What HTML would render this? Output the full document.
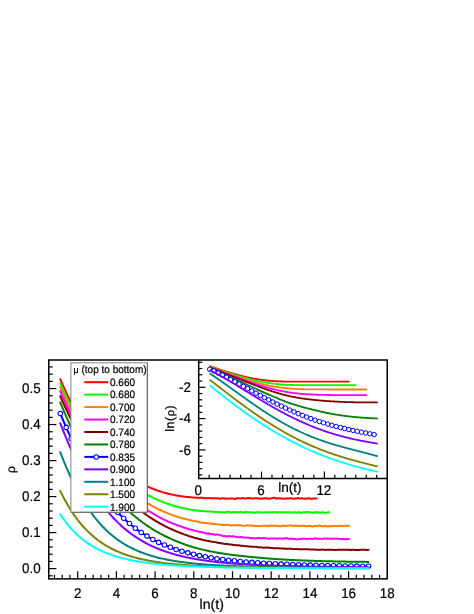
<!DOCTYPE html>
<html><head><meta charset="utf-8"><title>rho vs ln(t)</title>
<style>html,body{margin:0;padding:0;background:#fff;overflow:hidden}svg{display:block;will-change:transform}text{font-family:"Liberation Sans",sans-serif;fill:#000;stroke:#000;stroke-width:0.22px;text-rendering:geometricPrecision}</style></head><body>
<svg width="474" height="614" viewBox="0 0 474 614">
<rect width="474" height="614" fill="#fff"/>
<g fill="none" stroke-width="2.0" stroke-linecap="round" stroke-linejoin="round">
<path d="M60.26,379.17 L61.12,381.17 L61.97,383.14 L62.83,385.09 L63.69,387.01 L64.55,388.90 L65.40,390.76 L66.26,392.61 L67.12,394.42 L67.98,396.21 L68.83,397.98 L69.69,399.72 L70.55,401.44 L71.41,403.13 L72.26,404.80 L73.12,406.45 L73.98,408.07 L74.84,409.68 L75.69,411.26 L76.55,412.82 L77.41,414.35 L78.27,415.87 L79.12,417.36 L79.98,418.84 L80.84,420.29 L81.70,421.73 L82.55,423.14 L83.41,424.53 L84.27,425.91 L85.13,427.26 L85.99,428.60 L86.84,429.92 L87.70,431.22 L88.56,432.50 L89.42,433.76 L90.27,435.01 L91.13,436.23 L91.99,437.44 L92.85,438.64 L93.70,439.81 L94.56,440.97 L95.42,442.11 L96.28,443.24 L97.13,444.35 L97.99,445.44 L98.85,446.52 L99.71,447.59 L100.56,448.63 L101.42,449.66 L102.28,450.68 L103.14,451.68 L103.99,452.67 L104.85,453.64 L105.71,454.60 L106.57,455.54 L107.42,456.47 L108.28,457.39 L109.14,458.29 L110.00,459.18 L110.85,460.05 L111.71,460.91 L112.57,461.76 L113.43,462.60 L114.29,463.42 L115.14,464.23 L116.00,465.02 L116.86,465.81 L117.72,466.58 L118.57,467.34 L119.43,468.08 L120.29,468.82 L121.15,469.54 L122.00,470.25 L122.86,470.95 L123.72,471.64 L124.58,472.31 L125.43,472.98 L126.29,473.63 L127.15,474.27 L128.01,474.90 L128.86,475.52 L129.72,476.13 L130.58,476.73 L131.44,477.31 L132.29,477.89 L133.15,478.46 L134.01,479.01 L134.87,479.56 L135.72,480.09 L136.58,480.62 L137.44,481.13 L138.30,481.64 L139.15,482.13 L140.01,482.62 L140.87,483.09 L141.73,483.56 L142.59,484.01 L143.44,484.46 L144.30,484.90 L145.16,485.33 L146.02,485.75 L146.87,486.16 L147.73,486.56 L148.59,486.95 L149.45,487.34 L150.30,487.71 L151.16,488.08 L152.02,488.44 L152.88,488.79 L153.73,489.13 L154.59,489.46 L155.45,489.78 L156.31,490.10 L157.16,490.41 L158.02,490.71 L158.88,491.00 L159.74,491.29 L160.59,491.57 L161.45,491.84 L162.31,492.10 L163.17,492.35 L164.02,492.60 L164.88,492.84 L165.74,493.08 L166.60,493.31 L167.45,493.53 L168.31,493.74 L169.17,493.95 L170.03,494.15 L170.88,494.34 L171.74,494.53 L172.60,494.71 L173.46,494.89 L174.32,495.05 L175.17,495.22 L176.03,495.39 L176.89,495.53 L177.75,495.67 L178.60,495.80 L179.46,495.94 L180.32,496.09 L181.18,496.21 L182.03,496.31 L182.89,496.41 L183.75,496.50 L184.61,496.63 L185.46,496.79 L186.32,496.90 L187.18,497.00 L188.04,497.05 L188.89,497.08 L189.75,497.15 L190.61,497.24 L191.47,497.33 L192.32,497.39 L193.18,497.41 L194.04,497.42 L194.90,497.57 L195.75,497.75 L196.61,497.70 L197.47,497.67 L198.33,497.87 L199.18,497.95 L200.04,497.83 L200.90,497.83 L201.76,497.83 L202.62,497.85 L203.47,498.04 L204.33,498.14 L205.19,498.09 L206.05,498.09 L206.90,498.15 L207.76,498.15 L208.62,498.10 L209.48,498.01 L210.33,498.11 L211.19,498.34 L212.05,498.34 L212.91,498.31 L213.76,498.31 L214.62,498.23 L215.48,498.29 L216.34,498.39 L217.19,498.36 L218.05,498.33 L218.91,498.48 L219.77,498.65 L220.62,498.65 L221.48,498.49 L222.34,498.22 L223.20,498.20 L224.05,498.56 L224.91,498.67 L225.77,498.54 L226.63,498.59 L227.48,498.70 L228.34,498.74 L229.20,498.64 L230.06,498.58 L230.92,498.57 L231.77,498.44 L232.63,498.54 L233.49,498.70 L234.35,498.82 L235.20,499.00 L236.06,498.79 L236.92,498.23 L237.78,498.12 L238.63,498.36 L239.49,498.35 L240.35,498.44 L241.21,498.46 L242.06,498.05 L242.92,497.96 L243.78,498.32 L244.64,498.47 L245.49,498.42 L246.35,498.37 L247.21,498.17 L248.07,498.10 L248.92,498.21 L249.78,498.12 L250.64,498.12 L251.50,498.40 L252.35,498.53 L253.21,498.44 L254.07,498.26 L254.93,498.16 L255.78,498.14 L256.64,498.23 L257.50,498.35 L258.36,498.37 L259.22,498.49 L260.07,498.74 L260.93,498.73 L261.79,498.47 L262.65,498.49 L263.50,498.52 L264.36,498.32 L265.22,498.16 L266.08,498.31 L266.93,498.55 L267.79,498.52 L268.65,498.44 L269.51,498.52 L270.36,498.64 L271.22,498.36 L272.08,498.00 L272.94,497.96 L273.79,497.75 L274.65,497.65 L275.51,498.19 L276.37,498.66 L277.22,498.48 L278.08,498.17 L278.94,498.29 L279.80,498.59 L280.65,498.60 L281.51,498.48 L282.37,498.46 L283.23,498.54 L284.08,498.66 L284.94,498.65 L285.80,498.46 L286.66,498.34 L287.51,498.40 L288.37,498.48 L289.23,498.48 L290.09,498.32 L290.95,498.32 L291.80,498.33 L292.66,498.38 L293.52,498.78 L294.38,498.84 L295.23,498.58 L296.09,498.59 L296.95,498.36 L297.81,498.05 L298.66,498.27 L299.52,498.48 L300.38,498.37 L301.24,498.25 L302.09,498.30 L302.95,498.51 L303.81,498.69 L304.67,498.63 L305.52,498.63 L306.38,498.69 L307.24,498.46 L308.10,498.18 L308.95,498.24 L309.81,498.67 L310.67,498.86 L311.53,498.77 L312.38,498.67 L313.24,498.56 L314.10,498.49 L314.96,498.42 L315.81,498.41 L316.67,498.45" stroke="#ff0000"/>
<path d="M60.26,383.15 L61.16,385.31 L62.06,387.43 L62.96,389.53 L63.86,391.59 L64.76,393.63 L65.66,395.63 L66.56,397.61 L67.46,399.55 L68.35,401.47 L69.25,403.36 L70.15,405.22 L71.05,407.05 L71.95,408.85 L72.85,410.63 L73.75,412.39 L74.65,414.11 L75.55,415.81 L76.45,417.49 L77.35,419.14 L78.25,420.77 L79.15,422.37 L80.05,423.95 L80.95,425.51 L81.85,427.04 L82.75,428.55 L83.65,430.04 L84.55,431.51 L85.45,432.96 L86.35,434.38 L87.25,435.79 L88.15,437.17 L89.05,438.53 L89.95,439.88 L90.85,441.20 L91.75,442.50 L92.64,443.79 L93.54,445.05 L94.44,446.30 L95.34,447.53 L96.24,448.74 L97.14,449.94 L98.04,451.11 L98.94,452.27 L99.84,453.41 L100.74,454.54 L101.64,455.65 L102.54,456.74 L103.44,457.82 L104.34,458.88 L105.24,459.93 L106.14,460.96 L107.04,461.97 L107.94,462.97 L108.84,463.96 L109.74,464.93 L110.64,465.89 L111.54,466.83 L112.44,467.76 L113.34,468.67 L114.24,469.57 L115.14,470.46 L116.04,471.34 L116.94,472.20 L117.83,473.05 L118.73,473.88 L119.63,474.71 L120.53,475.52 L121.43,476.32 L122.33,477.11 L123.23,477.88 L124.13,478.65 L125.03,479.40 L125.93,480.14 L126.83,480.87 L127.73,481.59 L128.63,482.30 L129.53,482.99 L130.43,483.68 L131.33,484.35 L132.23,485.02 L133.13,485.67 L134.03,486.31 L134.93,486.95 L135.83,487.57 L136.73,488.18 L137.63,488.79 L138.53,489.38 L139.43,489.96 L140.33,490.54 L141.23,491.10 L142.13,491.66 L143.02,492.20 L143.92,492.74 L144.82,493.27 L145.72,493.79 L146.62,494.30 L147.52,494.80 L148.42,495.29 L149.32,495.77 L150.22,496.25 L151.12,496.71 L152.02,497.17 L152.92,497.62 L153.82,498.06 L154.72,498.49 L155.62,498.91 L156.52,499.33 L157.42,499.74 L158.32,500.14 L159.22,500.53 L160.12,500.91 L161.02,501.29 L161.92,501.65 L162.82,502.01 L163.72,502.37 L164.62,502.71 L165.52,503.05 L166.42,503.38 L167.31,503.70 L168.21,504.01 L169.11,504.32 L170.01,504.62 L170.91,504.91 L171.81,505.20 L172.71,505.48 L173.61,505.75 L174.51,506.01 L175.41,506.26 L176.31,506.51 L177.21,506.76 L178.11,506.99 L179.01,507.21 L179.91,507.43 L180.81,507.63 L181.71,507.83 L182.61,508.08 L183.51,508.29 L184.41,508.43 L185.31,508.62 L186.21,508.79 L187.11,508.97 L188.01,509.19 L188.91,509.38 L189.81,509.55 L190.71,509.66 L191.61,509.79 L192.50,509.91 L193.40,510.03 L194.30,510.21 L195.20,510.35 L196.10,510.48 L197.00,510.53 L197.90,510.56 L198.80,510.71 L199.70,510.91 L200.60,511.01 L201.50,511.01 L202.40,511.00 L203.30,511.07 L204.20,511.21 L205.10,511.18 L206.00,511.16 L206.90,511.46 L207.80,511.61 L208.70,511.44 L209.60,511.40 L210.50,511.49 L211.40,511.61 L212.30,511.75 L213.20,511.74 L214.10,511.80 L215.00,511.94 L215.90,511.96 L216.80,511.96 L217.69,511.84 L218.59,511.66 L219.49,511.86 L220.39,512.27 L221.29,512.29 L222.19,512.20 L223.09,512.23 L223.99,512.25 L224.89,512.43 L225.79,512.51 L226.69,512.11 L227.59,511.81 L228.49,511.85 L229.39,512.04 L230.29,512.40 L231.19,512.45 L232.09,512.10 L232.99,511.97 L233.89,512.28 L234.79,512.31 L235.69,512.02 L236.59,512.10 L237.49,512.31 L238.39,512.36 L239.29,512.24 L240.19,512.08 L241.09,511.99 L241.99,512.19 L242.88,512.61 L243.78,512.61 L244.68,512.30 L245.58,512.02 L246.48,511.92 L247.38,512.14 L248.28,512.33 L249.18,512.36 L250.08,512.26 L250.98,512.17 L251.88,512.27 L252.78,512.49 L253.68,512.78 L254.58,512.82 L255.48,512.46 L256.38,512.23 L257.28,512.25 L258.18,512.20 L259.08,512.19 L259.98,512.21 L260.88,512.25 L261.78,512.39 L262.68,512.44 L263.58,512.40 L264.48,512.31 L265.38,512.15 L266.28,512.13 L267.17,512.21 L268.07,512.29 L268.97,512.38 L269.87,512.28 L270.77,512.15 L271.67,512.15 L272.57,512.09 L273.47,512.13 L274.37,512.09 L275.27,511.99 L276.17,512.23 L277.07,512.41 L277.97,512.33 L278.87,512.26 L279.77,512.19 L280.67,512.15 L281.57,512.20 L282.47,512.27 L283.37,512.24 L284.27,512.20 L285.17,512.33 L286.07,512.42 L286.97,512.33 L287.87,512.34 L288.77,512.29 L289.67,512.18 L290.57,512.34 L291.47,512.50 L292.36,512.49 L293.26,512.42 L294.16,512.28 L295.06,512.34 L295.96,512.51 L296.86,512.54 L297.76,512.32 L298.66,512.18 L299.56,512.45 L300.46,512.73 L301.36,512.69 L302.26,512.38 L303.16,512.21 L304.06,512.40 L304.96,512.22 L305.86,511.95 L306.76,512.09 L307.66,512.03 L308.56,511.96 L309.46,512.27 L310.36,512.52 L311.26,512.46 L312.16,512.56 L313.06,512.87 L313.96,512.82 L314.86,512.49 L315.76,512.22 L316.66,512.07 L317.55,512.18 L318.45,512.43 L319.35,512.50 L320.25,512.53 L321.15,512.50 L322.05,512.33 L322.95,512.37 L323.85,512.56 L324.75,512.65 L325.65,512.67 L326.55,512.52 L327.45,512.40 L328.35,512.33 L329.25,512.24" stroke="#00ff00"/>
<path d="M60.26,387.22 L61.22,389.48 L62.19,391.72 L63.15,393.92 L64.12,396.09 L65.09,398.23 L66.05,400.35 L67.02,402.43 L67.98,404.49 L68.95,406.52 L69.91,408.52 L70.88,410.49 L71.85,412.44 L72.81,414.36 L73.78,416.25 L74.74,418.12 L75.71,419.96 L76.67,421.78 L77.64,423.57 L78.61,425.34 L79.57,427.08 L80.54,428.80 L81.50,430.50 L82.47,432.17 L83.43,433.82 L84.40,435.45 L85.36,437.05 L86.33,438.63 L87.30,440.19 L88.26,441.73 L89.23,443.24 L90.19,444.74 L91.16,446.21 L92.12,447.66 L93.09,449.09 L94.06,450.51 L95.02,451.90 L95.99,453.27 L96.95,454.62 L97.92,455.96 L98.88,457.27 L99.85,458.57 L100.82,459.85 L101.78,461.10 L102.75,462.34 L103.71,463.57 L104.68,464.77 L105.64,465.96 L106.61,467.13 L107.57,468.28 L108.54,469.42 L109.51,470.54 L110.47,471.64 L111.44,472.73 L112.40,473.80 L113.37,474.85 L114.33,475.89 L115.30,476.91 L116.27,477.92 L117.23,478.91 L118.20,479.89 L119.16,480.85 L120.13,481.80 L121.09,482.74 L122.06,483.65 L123.03,484.56 L123.99,485.45 L124.96,486.33 L125.92,487.19 L126.89,488.04 L127.85,488.87 L128.82,489.70 L129.78,490.51 L130.75,491.30 L131.72,492.08 L132.68,492.86 L133.65,493.61 L134.61,494.36 L135.58,495.09 L136.54,495.81 L137.51,496.52 L138.48,497.22 L139.44,497.90 L140.41,498.58 L141.37,499.24 L142.34,499.89 L143.30,500.53 L144.27,501.16 L145.24,501.77 L146.20,502.38 L147.17,502.98 L148.13,503.56 L149.10,504.13 L150.06,504.70 L151.03,505.25 L151.99,505.79 L152.96,506.33 L153.93,506.85 L154.89,507.36 L155.86,507.86 L156.82,508.36 L157.79,508.84 L158.75,509.32 L159.72,509.78 L160.69,510.24 L161.65,510.68 L162.62,511.12 L163.58,511.55 L164.55,511.97 L165.51,512.38 L166.48,512.78 L167.44,513.18 L168.41,513.56 L169.38,513.94 L170.34,514.31 L171.31,514.67 L172.27,515.02 L173.24,515.36 L174.20,515.70 L175.17,516.03 L176.14,516.35 L177.10,516.65 L178.07,516.95 L179.03,517.27 L180.00,517.59 L180.96,517.90 L181.93,518.20 L182.90,518.40 L183.86,518.58 L184.83,518.83 L185.79,519.09 L186.76,519.36 L187.72,519.59 L188.69,519.79 L189.65,520.03 L190.62,520.25 L191.59,520.50 L192.55,520.74 L193.52,520.92 L194.48,521.10 L195.45,521.26 L196.41,521.37 L197.38,521.52 L198.35,521.87 L199.31,522.29 L200.28,522.54 L201.24,522.62 L202.21,522.61 L203.17,522.69 L204.14,522.91 L205.11,523.00 L206.07,523.04 L207.04,523.16 L208.00,523.28 L208.97,523.38 L209.93,523.44 L210.90,523.49 L211.86,523.80 L212.83,524.17 L213.80,524.12 L214.76,524.07 L215.73,524.28 L216.69,524.32 L217.66,524.20 L218.62,524.37 L219.59,524.66 L220.56,524.71 L221.52,524.83 L222.49,524.94 L223.45,524.81 L224.42,524.75 L225.38,524.95 L226.35,525.01 L227.32,524.74 L228.28,524.73 L229.25,525.03 L230.21,525.30 L231.18,525.51 L232.14,525.42 L233.11,525.21 L234.07,525.31 L235.04,525.33 L236.01,525.31 L236.97,525.40 L237.94,525.17 L238.90,525.02 L239.87,525.15 L240.83,525.20 L241.80,525.37 L242.77,525.65 L243.73,525.87 L244.70,525.95 L245.66,525.64 L246.63,525.33 L247.59,525.35 L248.56,525.38 L249.53,525.48 L250.49,525.67 L251.46,525.51 L252.42,525.43 L253.39,525.73 L254.35,525.88 L255.32,525.88 L256.28,525.93 L257.25,525.96 L258.22,526.02 L259.18,526.11 L260.15,526.08 L261.11,526.01 L262.08,525.85 L263.04,525.63 L264.01,525.69 L264.98,525.84 L265.94,525.78 L266.91,525.81 L267.87,526.08 L268.84,525.96 L269.80,525.54 L270.77,525.46 L271.74,525.69 L272.70,525.80 L273.67,525.78 L274.63,525.81 L275.60,525.86 L276.56,525.89 L277.53,525.83 L278.49,525.93 L279.46,526.32 L280.43,526.38 L281.39,525.93 L282.36,525.67 L283.32,525.80 L284.29,525.89 L285.25,525.74 L286.22,525.73 L287.19,525.79 L288.15,525.66 L289.12,525.62 L290.08,525.57 L291.05,525.38 L292.01,525.44 L292.98,525.74 L293.94,525.90 L294.91,525.75 L295.88,525.55 L296.84,525.76 L297.81,526.08 L298.77,526.09 L299.74,525.88 L300.70,525.82 L301.67,525.91 L302.64,525.78 L303.60,525.59 L304.57,525.81 L305.53,526.14 L306.50,526.20 L307.46,526.11 L308.43,526.03 L309.40,526.00 L310.36,525.89 L311.33,526.07 L312.29,526.43 L313.26,526.24 L314.22,525.90 L315.19,525.90 L316.15,526.09 L317.12,526.13 L318.09,525.79 L319.05,525.55 L320.02,525.72 L320.98,525.92 L321.95,526.07 L322.91,526.20 L323.88,526.18 L324.85,526.00 L325.81,525.88 L326.78,526.17 L327.74,526.45 L328.71,526.28 L329.67,526.06 L330.64,526.14 L331.61,526.18 L332.57,525.91 L333.54,525.87 L334.50,526.07 L335.47,526.06 L336.43,525.94 L337.40,525.92 L338.36,525.92 L339.33,525.91 L340.30,525.81 L341.26,525.71 L342.23,525.90 L343.19,526.00 L344.16,525.81 L345.12,525.86 L346.09,525.93 L347.06,525.81 L348.02,525.77 L348.99,525.75" stroke="#ff8000"/>
<path d="M60.26,391.11 L61.22,393.34 L62.19,395.55 L63.15,397.73 L64.12,399.89 L65.09,402.01 L66.05,404.12 L67.02,406.19 L67.98,408.24 L68.95,410.27 L69.91,412.27 L70.88,414.24 L71.85,416.20 L72.81,418.12 L73.78,420.03 L74.74,421.91 L75.71,423.76 L76.67,425.60 L77.64,427.41 L78.61,429.19 L79.57,430.96 L80.54,432.70 L81.50,434.42 L82.47,436.12 L83.43,437.80 L84.40,439.45 L85.36,441.09 L86.33,442.70 L87.30,444.29 L88.26,445.86 L89.23,447.41 L90.19,448.94 L91.16,450.46 L92.12,451.95 L93.09,453.42 L94.06,454.87 L95.02,456.30 L95.99,457.72 L96.95,459.11 L97.92,460.49 L98.88,461.85 L99.85,463.19 L100.82,464.51 L101.78,465.81 L102.75,467.10 L103.71,468.37 L104.68,469.62 L105.64,470.86 L106.61,472.07 L107.57,473.27 L108.54,474.46 L109.51,475.62 L110.47,476.78 L111.44,477.91 L112.40,479.03 L113.37,480.13 L114.33,481.22 L115.30,482.29 L116.27,483.35 L117.23,484.39 L118.20,485.42 L119.16,486.43 L120.13,487.43 L121.09,488.41 L122.06,489.38 L123.03,490.33 L123.99,491.27 L124.96,492.20 L125.92,493.11 L126.89,494.01 L127.85,494.89 L128.82,495.76 L129.78,496.62 L130.75,497.47 L131.72,498.30 L132.68,499.12 L133.65,499.93 L134.61,500.72 L135.58,501.50 L136.54,502.27 L137.51,503.03 L138.48,503.77 L139.44,504.51 L140.41,505.23 L141.37,505.94 L142.34,506.64 L143.30,507.33 L144.27,508.00 L145.24,508.67 L146.20,509.32 L147.17,509.96 L148.13,510.60 L149.10,511.22 L150.06,511.83 L151.03,512.43 L151.99,513.02 L152.96,513.60 L153.93,514.17 L154.89,514.73 L155.86,515.29 L156.82,515.83 L157.79,516.36 L158.75,516.88 L159.72,517.39 L160.69,517.90 L161.65,518.39 L162.62,518.88 L163.58,519.36 L164.55,519.82 L165.51,520.28 L166.48,520.73 L167.44,521.18 L168.41,521.61 L169.38,522.04 L170.34,522.46 L171.31,522.87 L172.27,523.27 L173.24,523.66 L174.20,524.05 L175.17,524.43 L176.14,524.79 L177.10,525.14 L178.07,525.48 L179.03,525.82 L180.00,526.15 L180.96,526.52 L181.93,526.89 L182.90,527.20 L183.86,527.49 L184.83,527.79 L185.79,528.10 L186.76,528.41 L187.72,528.71 L188.69,529.06 L189.65,529.39 L190.62,529.60 L191.59,529.78 L192.55,530.02 L193.52,530.31 L194.48,530.59 L195.45,530.85 L196.41,531.14 L197.38,531.33 L198.35,531.38 L199.31,531.63 L200.28,531.98 L201.24,532.11 L202.21,532.23 L203.17,532.40 L204.14,532.58 L205.11,533.00 L206.07,533.47 L207.04,533.51 L208.00,533.35 L208.97,533.43 L209.93,533.76 L210.90,534.03 L211.86,534.04 L212.83,534.19 L213.80,534.58 L214.76,534.75 L215.73,534.65 L216.69,534.54 L217.66,534.61 L218.62,534.71 L219.59,534.89 L220.56,535.27 L221.52,535.51 L222.49,535.82 L223.45,536.23 L224.42,536.13 L225.38,535.94 L226.35,536.22 L227.32,536.39 L228.28,536.15 L229.25,536.11 L230.21,536.20 L231.18,536.38 L232.14,536.53 L233.11,536.31 L234.07,536.36 L235.04,536.71 L236.01,536.90 L236.97,537.06 L237.94,537.14 L238.90,537.26 L239.87,537.23 L240.83,537.02 L241.80,537.11 L242.77,537.31 L243.73,537.47 L244.70,537.51 L245.66,537.40 L246.63,537.53 L247.59,537.82 L248.56,537.82 L249.53,537.89 L250.49,538.36 L251.46,538.36 L252.42,537.90 L253.39,538.12 L254.35,538.56 L255.32,538.44 L256.28,538.18 L257.25,538.06 L258.22,538.02 L259.18,538.05 L260.15,538.17 L261.11,538.30 L262.08,538.24 L263.04,538.09 L264.01,538.07 L264.98,538.16 L265.94,538.20 L266.91,538.39 L267.87,538.64 L268.84,538.66 L269.80,538.63 L270.77,538.61 L271.74,538.54 L272.70,538.48 L273.67,538.55 L274.63,538.58 L275.60,538.57 L276.56,538.74 L277.53,538.67 L278.49,538.45 L279.46,538.42 L280.43,538.50 L281.39,538.56 L282.36,538.66 L283.32,538.75 L284.29,538.45 L285.25,538.16 L286.22,538.19 L287.19,538.29 L288.15,538.64 L289.12,538.98 L290.08,538.84 L291.05,538.50 L292.01,538.66 L292.98,539.04 L293.94,538.99 L294.91,538.90 L295.88,539.19 L296.84,539.44 L297.81,539.26 L298.77,538.97 L299.74,538.93 L300.70,538.89 L301.67,538.66 L302.64,538.57 L303.60,538.64 L304.57,538.65 L305.53,538.73 L306.50,539.05 L307.46,539.18 L308.43,538.88 L309.40,538.72 L310.36,538.83 L311.33,538.99 L312.29,539.02 L313.26,538.77 L314.22,538.50 L315.19,538.39 L316.15,538.58 L317.12,538.86 L318.09,538.81 L319.05,538.63 L320.02,538.69 L320.98,538.87 L321.95,538.89 L322.91,538.77 L323.88,538.59 L324.85,538.40 L325.81,538.63 L326.78,538.84 L327.74,538.58 L328.71,538.62 L329.67,538.83 L330.64,538.74 L331.61,538.67 L332.57,538.77 L333.54,538.84 L334.50,538.67 L335.47,538.50 L336.43,538.59 L337.40,538.64 L338.36,538.70 L339.33,538.91 L340.30,539.08 L341.26,539.03 L342.23,538.93 L343.19,539.09 L344.16,539.26 L345.12,539.30 L346.09,539.20 L347.06,538.94 L348.02,538.89 L348.99,538.99" stroke="#ff00ff"/>
<path d="M60.26,396.16 L61.29,398.50 L62.32,400.81 L63.35,403.10 L64.38,405.36 L65.41,407.59 L66.44,409.79 L67.47,411.97 L68.51,414.11 L69.54,416.23 L70.57,418.33 L71.60,420.40 L72.63,422.44 L73.66,424.46 L74.69,426.45 L75.72,428.42 L76.75,430.36 L77.79,432.27 L78.82,434.16 L79.85,436.03 L80.88,437.87 L81.91,439.69 L82.94,441.49 L83.97,443.26 L85.00,445.01 L86.03,446.74 L87.06,448.44 L88.10,450.12 L89.13,451.78 L90.16,453.41 L91.19,455.03 L92.22,456.62 L93.25,458.19 L94.28,459.74 L95.31,461.27 L96.34,462.78 L97.37,464.27 L98.41,465.74 L99.44,467.18 L100.47,468.61 L101.50,470.02 L102.53,471.41 L103.56,472.77 L104.59,474.12 L105.62,475.45 L106.65,476.77 L107.68,478.06 L108.72,479.33 L109.75,480.59 L110.78,481.83 L111.81,483.05 L112.84,484.25 L113.87,485.44 L114.90,486.61 L115.93,487.76 L116.96,488.89 L117.99,490.01 L119.03,491.11 L120.06,492.20 L121.09,493.26 L122.12,494.32 L123.15,495.35 L124.18,496.38 L125.21,497.38 L126.24,498.37 L127.27,499.35 L128.30,500.31 L129.34,501.26 L130.37,502.19 L131.40,503.10 L132.43,504.01 L133.46,504.90 L134.49,505.77 L135.52,506.63 L136.55,507.48 L137.58,508.31 L138.61,509.13 L139.65,509.94 L140.68,510.73 L141.71,511.52 L142.74,512.29 L143.77,513.04 L144.80,513.79 L145.83,514.52 L146.86,515.24 L147.89,515.95 L148.92,516.64 L149.96,517.33 L150.99,518.00 L152.02,518.66 L153.05,519.31 L154.08,519.95 L155.11,520.58 L156.14,521.20 L157.17,521.81 L158.20,522.40 L159.24,522.99 L160.27,523.57 L161.30,524.13 L162.33,524.69 L163.36,525.23 L164.39,525.77 L165.42,526.30 L166.45,526.82 L167.48,527.32 L168.51,527.82 L169.55,528.31 L170.58,528.80 L171.61,529.27 L172.64,529.73 L173.67,530.19 L174.70,530.63 L175.73,531.07 L176.76,531.50 L177.79,531.93 L178.82,532.34 L179.86,532.74 L180.89,533.12 L181.92,533.52 L182.95,533.92 L183.98,534.32 L185.01,534.68 L186.04,535.02 L187.07,535.37 L188.10,535.75 L189.13,536.11 L190.17,536.42 L191.20,536.71 L192.23,537.02 L193.26,537.40 L194.29,537.76 L195.32,538.04 L196.35,538.31 L197.38,538.56 L198.41,538.81 L199.44,539.08 L200.48,539.31 L201.51,539.56 L202.54,539.84 L203.57,540.10 L204.60,540.32 L205.63,540.51 L206.66,540.67 L207.69,540.87 L208.72,541.10 L209.75,541.28 L210.79,541.43 L211.82,541.62 L212.85,541.81 L213.88,541.96 L214.91,542.12 L215.94,542.33 L216.97,542.59 L218.00,542.86 L219.03,543.03 L220.06,543.06 L221.10,543.21 L222.13,543.45 L223.16,543.58 L224.19,543.75 L225.22,543.96 L226.25,544.01 L227.28,544.03 L228.31,544.18 L229.34,544.41 L230.37,544.53 L231.41,544.56 L232.44,544.70 L233.47,544.92 L234.50,545.05 L235.53,545.13 L236.56,545.27 L237.59,545.34 L238.62,545.35 L239.65,545.49 L240.69,545.65 L241.72,545.66 L242.75,545.69 L243.78,545.88 L244.81,546.11 L245.84,546.17 L246.87,546.21 L247.90,546.36 L248.93,546.43 L249.96,546.53 L251.00,546.69 L252.03,546.74 L253.06,546.73 L254.09,546.76 L255.12,546.87 L256.15,546.86 L257.18,546.95 L258.21,547.23 L259.24,547.37 L260.27,547.37 L261.31,547.38 L262.34,547.52 L263.37,547.66 L264.40,547.68 L265.43,547.62 L266.46,547.60 L267.49,547.63 L268.52,547.61 L269.55,547.70 L270.58,547.85 L271.62,547.92 L272.65,548.00 L273.68,548.14 L274.71,548.30 L275.74,548.34 L276.77,548.33 L277.80,548.36 L278.83,548.34 L279.86,548.39 L280.89,548.46 L281.93,548.45 L282.96,548.45 L283.99,548.51 L285.02,548.65 L286.05,548.75 L287.08,548.73 L288.11,548.72 L289.14,548.71 L290.17,548.70 L291.20,548.80 L292.24,549.02 L293.27,549.13 L294.30,549.05 L295.33,549.00 L296.36,549.05 L297.39,549.10 L298.42,549.15 L299.45,549.19 L300.48,549.21 L301.51,549.23 L302.55,549.21 L303.58,549.17 L304.61,549.17 L305.64,549.20 L306.67,549.25 L307.70,549.30 L308.73,549.35 L309.76,549.43 L310.79,549.45 L311.82,549.39 L312.86,549.39 L313.89,549.48 L314.92,549.63 L315.95,549.73 L316.98,549.70 L318.01,549.67 L319.04,549.68 L320.07,549.66 L321.10,549.70 L322.13,549.62 L323.17,549.60 L324.20,549.85 L325.23,549.88 L326.26,549.74 L327.29,549.73 L328.32,549.76 L329.35,549.73 L330.38,549.67 L331.41,549.71 L332.45,549.80 L333.48,549.86 L334.51,549.88 L335.54,549.92 L336.57,549.93 L337.60,549.85 L338.63,549.75 L339.66,549.68 L340.69,549.73 L341.72,549.84 L342.76,549.83 L343.79,549.84 L344.82,549.82 L345.85,549.77 L346.88,549.78 L347.91,549.79 L348.94,549.83 L349.97,549.91 L351.00,549.90 L352.03,549.82 L353.07,549.80 L354.10,549.85 L355.13,549.90 L356.16,550.01 L357.19,550.09 L358.22,550.00 L359.25,549.89 L360.28,549.84 L361.31,549.79 L362.34,549.77 L363.38,549.78 L364.41,549.82 L365.44,549.87 L366.47,549.91 L367.50,549.88 L368.53,549.86" stroke="#800000"/>
<path d="M60.26,402.40 L61.29,404.93 L62.32,407.43 L63.35,409.90 L64.38,412.33 L65.41,414.73 L66.44,417.09 L67.47,419.43 L68.51,421.72 L69.54,423.99 L70.57,426.23 L71.60,428.43 L72.63,430.60 L73.66,432.75 L74.69,434.86 L75.72,436.94 L76.75,438.99 L77.79,441.02 L78.82,443.01 L79.85,444.98 L80.88,446.91 L81.91,448.82 L82.94,450.70 L83.97,452.56 L85.00,454.38 L86.03,456.19 L87.06,457.96 L88.10,459.71 L89.13,461.43 L90.16,463.13 L91.19,464.80 L92.22,466.45 L93.25,468.07 L94.28,469.67 L95.31,471.25 L96.34,472.80 L97.37,474.33 L98.41,475.83 L99.44,477.31 L100.47,478.77 L101.50,480.21 L102.53,481.63 L103.56,483.02 L104.59,484.40 L105.62,485.75 L106.65,487.08 L107.68,488.39 L108.72,489.68 L109.75,490.95 L110.78,492.21 L111.81,493.44 L112.84,494.65 L113.87,495.84 L114.90,497.02 L115.93,498.18 L116.96,499.32 L117.99,500.44 L119.03,501.54 L120.06,502.62 L121.09,503.69 L122.12,504.74 L123.15,505.78 L124.18,506.80 L125.21,507.80 L126.24,508.78 L127.27,509.75 L128.30,510.71 L129.34,511.65 L130.37,512.57 L131.40,513.48 L132.43,514.37 L133.46,515.25 L134.49,516.11 L135.52,516.96 L136.55,517.80 L137.58,518.62 L138.61,519.43 L139.65,520.23 L140.68,521.01 L141.71,521.78 L142.74,522.53 L143.77,523.28 L144.80,524.01 L145.83,524.73 L146.86,525.43 L147.89,526.13 L148.92,526.81 L149.96,527.48 L150.99,528.14 L152.02,528.79 L153.05,529.43 L154.08,530.05 L155.11,530.67 L156.14,531.27 L157.17,531.87 L158.20,532.45 L159.24,533.02 L160.27,533.59 L161.30,534.14 L162.33,534.69 L163.36,535.22 L164.39,535.75 L165.42,536.26 L166.45,536.77 L167.48,537.27 L168.51,537.76 L169.55,538.24 L170.58,538.71 L171.61,539.17 L172.64,539.63 L173.67,540.07 L174.70,540.51 L175.73,540.94 L176.76,541.37 L177.79,541.78 L178.82,542.19 L179.86,542.59 L180.89,542.98 L181.92,543.37 L182.95,543.75 L183.98,544.12 L185.01,544.48 L186.04,544.84 L187.07,545.19 L188.10,545.54 L189.13,545.88 L190.17,546.21 L191.20,546.53 L192.23,546.85 L193.26,547.17 L194.29,547.47 L195.32,547.77 L196.35,548.06 L197.38,548.35 L198.41,548.62 L199.44,548.89 L200.48,549.15 L201.51,549.40 L202.54,549.65 L203.57,549.89 L204.60,550.12 L205.63,550.35 L206.66,550.58 L207.69,550.80 L208.72,551.01 L209.75,551.22 L210.79,551.42 L211.82,551.62 L212.85,551.82 L213.88,552.01 L214.91,552.20 L215.94,552.39 L216.97,552.57 L218.00,552.75 L219.03,552.92 L220.06,553.10 L221.10,553.27 L222.13,553.43 L223.16,553.60 L224.19,553.76 L225.22,553.92 L226.25,554.07 L227.28,554.22 L228.31,554.37 L229.34,554.51 L230.37,554.64 L231.41,554.78 L232.44,554.91 L233.47,555.04 L234.50,555.17 L235.53,555.29 L236.56,555.41 L237.59,555.53 L238.62,555.65 L239.65,555.77 L240.69,555.88 L241.72,555.99 L242.75,556.10 L243.78,556.21 L244.81,556.32 L245.84,556.42 L246.87,556.53 L247.90,556.63 L248.93,556.73 L249.96,556.84 L251.00,556.94 L252.03,557.04 L253.06,557.14 L254.09,557.24 L255.12,557.34 L256.15,557.43 L257.18,557.53 L258.21,557.62 L259.24,557.72 L260.27,557.81 L261.31,557.90 L262.34,557.99 L263.37,558.08 L264.40,558.17 L265.43,558.25 L266.46,558.34 L267.49,558.42 L268.52,558.50 L269.55,558.58 L270.58,558.66 L271.62,558.74 L272.65,558.81 L273.68,558.89 L274.71,558.96 L275.74,559.03 L276.77,559.10 L277.80,559.17 L278.83,559.24 L279.86,559.31 L280.89,559.37 L281.93,559.44 L282.96,559.50 L283.99,559.56 L285.02,559.62 L286.05,559.68 L287.08,559.73 L288.11,559.79 L289.14,559.84 L290.17,559.90 L291.20,559.95 L292.24,560.00 L293.27,560.05 L294.30,560.10 L295.33,560.14 L296.36,560.19 L297.39,560.24 L298.42,560.28 L299.45,560.33 L300.48,560.37 L301.51,560.41 L302.55,560.46 L303.58,560.50 L304.61,560.54 L305.64,560.58 L306.67,560.62 L307.70,560.66 L308.73,560.69 L309.76,560.73 L310.79,560.77 L311.82,560.80 L312.86,560.84 L313.89,560.87 L314.92,560.91 L315.95,560.94 L316.98,560.97 L318.01,561.00 L319.04,561.03 L320.07,561.06 L321.10,561.09 L322.13,561.12 L323.17,561.15 L324.20,561.18 L325.23,561.20 L326.26,561.23 L327.29,561.25 L328.32,561.28 L329.35,561.30 L330.38,561.33 L331.41,561.35 L332.45,561.37 L333.48,561.39 L334.51,561.41 L335.54,561.43 L336.57,561.45 L337.60,561.47 L338.63,561.49 L339.66,561.51 L340.69,561.53 L341.72,561.55 L342.76,561.57 L343.79,561.59 L344.82,561.60 L345.85,561.62 L346.88,561.64 L347.91,561.65 L348.94,561.67 L349.97,561.68 L351.00,561.70 L352.03,561.71 L353.07,561.73 L354.10,561.74 L355.13,561.76 L356.16,561.77 L357.19,561.78 L358.22,561.80 L359.25,561.81 L360.28,561.82 L361.31,561.84 L362.34,561.85 L363.38,561.86 L364.41,561.87 L365.44,561.88 L366.47,561.89 L367.50,561.90 L368.53,561.91" stroke="#008000"/>
<path d="M60.26,413.36 L61.29,415.85 L62.32,418.32 L63.35,420.76 L64.38,423.18 L65.41,425.58 L66.44,427.94 L67.47,430.29 L68.51,432.60 L69.54,434.90 L70.57,437.16 L71.60,439.40 L72.63,441.61 L73.66,443.80 L74.69,445.96 L75.72,448.09 L76.75,450.19 L77.79,452.27 L78.82,454.32 L79.85,456.34 L80.88,458.33 L81.91,460.30 L82.94,462.23 L83.97,464.14 L85.00,466.03 L86.03,467.88 L87.06,469.71 L88.10,471.51 L89.13,473.29 L90.16,475.03 L91.19,476.75 L92.22,478.44 L93.25,480.11 L94.28,481.75 L95.31,483.36 L96.34,484.95 L97.37,486.51 L98.41,488.05 L99.44,489.56 L100.47,491.04 L101.50,492.50 L102.53,493.94 L103.56,495.35 L104.59,496.73 L105.62,498.10 L106.65,499.43 L107.68,500.75 L108.72,502.04 L109.75,503.31 L110.78,504.55 L111.81,505.78 L112.84,506.98 L113.87,508.16 L114.90,509.31 L115.93,510.45 L116.96,511.57 L117.99,512.66 L119.03,513.73 L120.06,514.79 L121.09,515.82 L122.12,516.84 L123.15,517.83 L124.18,518.81 L125.21,519.76 L126.24,520.70 L127.27,521.62 L128.30,522.53 L129.34,523.41 L130.37,524.28 L131.40,525.13 L132.43,525.97 L133.46,526.78 L134.49,527.59 L135.52,528.37 L136.55,529.14 L137.58,529.90 L138.61,530.64 L139.65,531.36 L140.68,532.07 L141.71,532.77 L142.74,533.45 L143.77,534.12 L144.80,534.78 L145.83,535.42 L146.86,536.05 L147.89,536.66 L148.92,537.27 L149.96,537.86 L150.99,538.44 L152.02,539.00 L153.05,539.56 L154.08,540.10 L155.11,540.64 L156.14,541.16 L157.17,541.67 L158.20,542.17 L159.24,542.66 L160.27,543.14 L161.30,543.61 L162.33,544.07 L163.36,544.52 L164.39,544.97 L165.42,545.40 L166.45,545.82 L167.48,546.24 L168.51,546.64 L169.55,547.04 L170.58,547.43 L171.61,547.81 L172.64,548.19 L173.67,548.55 L174.70,548.91 L175.73,549.26 L176.76,549.60 L177.79,549.94 L178.82,550.27 L179.86,550.59 L180.89,550.91 L181.92,551.22 L182.95,551.52 L183.98,551.82 L185.01,552.11 L186.04,552.39 L187.07,552.67 L188.10,552.94 L189.13,553.21 L190.17,553.47 L191.20,553.73 L192.23,553.98 L193.26,554.22 L194.29,554.46 L195.32,554.70 L196.35,554.93 L197.38,555.16 L198.41,555.38 L199.44,555.59 L200.48,555.81 L201.51,556.01 L202.54,556.22 L203.57,556.42 L204.60,556.61 L205.63,556.80 L206.66,556.99 L207.69,557.18 L208.72,557.36 L209.75,557.53 L210.79,557.71 L211.82,557.87 L212.85,558.04 L213.88,558.20 L214.91,558.36 L215.94,558.52 L216.97,558.67 L218.00,558.82 L219.03,558.97 L220.06,559.11 L221.10,559.25 L222.13,559.39 L223.16,559.52 L224.19,559.66 L225.22,559.79 L226.25,559.91 L227.28,560.04 L228.31,560.16 L229.34,560.28 L230.37,560.40 L231.41,560.51 L232.44,560.63 L233.47,560.74 L234.50,560.85 L235.53,560.95 L236.56,561.06 L237.59,561.16 L238.62,561.26 L239.65,561.36 L240.69,561.45 L241.72,561.55 L242.75,561.64 L243.78,561.73 L244.81,561.82 L245.84,561.91 L246.87,562.00 L247.90,562.08 L248.93,562.16 L249.96,562.24 L251.00,562.32 L252.03,562.40 L253.06,562.48 L254.09,562.55 L255.12,562.63 L256.15,562.70 L257.18,562.77 L258.21,562.84 L259.24,562.91 L260.27,562.98 L261.31,563.04 L262.34,563.11 L263.37,563.17 L264.40,563.23 L265.43,563.29 L266.46,563.35 L267.49,563.41 L268.52,563.47 L269.55,563.53 L270.58,563.58 L271.62,563.64 L272.65,563.69 L273.68,563.74 L274.71,563.79 L275.74,563.85 L276.77,563.90 L277.80,563.94 L278.83,563.99 L279.86,564.04 L280.89,564.09 L281.93,564.13 L282.96,564.18 L283.99,564.22 L285.02,564.27 L286.05,564.31 L287.08,564.35 L288.11,564.39 L289.14,564.43 L290.17,564.47 L291.20,564.51 L292.24,564.55 L293.27,564.59 L294.30,564.62 L295.33,564.66 L296.36,564.70 L297.39,564.73 L298.42,564.77 L299.45,564.80 L300.48,564.84 L301.51,564.87 L302.55,564.90 L303.58,564.93 L304.61,564.97 L305.64,565.00 L306.67,565.03 L307.70,565.06 L308.73,565.09 L309.76,565.12 L310.79,565.15 L311.82,565.17 L312.86,565.20 L313.89,565.23 L314.92,565.26 L315.95,565.28 L316.98,565.31 L318.01,565.34 L319.04,565.36 L320.07,565.39 L321.10,565.41 L322.13,565.44 L323.17,565.46 L324.20,565.48 L325.23,565.51 L326.26,565.53 L327.29,565.55 L328.32,565.58 L329.35,565.60 L330.38,565.62 L331.41,565.64 L332.45,565.66 L333.48,565.68 L334.51,565.70 L335.54,565.73 L336.57,565.75 L337.60,565.77 L338.63,565.79 L339.66,565.81 L340.69,565.83 L341.72,565.84 L342.76,565.86 L343.79,565.88 L344.82,565.90 L345.85,565.92 L346.88,565.94 L347.91,565.96 L348.94,565.97 L349.97,565.99 L351.00,566.01 L352.03,566.03 L353.07,566.04 L354.10,566.06 L355.13,566.08 L356.16,566.09 L357.19,566.11 L358.22,566.13 L359.25,566.14 L360.28,566.16 L361.31,566.17 L362.34,566.19 L363.38,566.21 L364.41,566.22 L365.44,566.24 L366.47,566.25 L367.50,566.27 L368.53,566.28" stroke="#0000ff"/>
<g fill="#fff" stroke="#0000ff" stroke-width="1.05">
<circle cx="60.30" cy="413.47" r="2.25"/>
<circle cx="66.20" cy="427.39" r="2.25"/>
<circle cx="71.20" cy="438.54" r="2.25"/>
<circle cx="77.03" cy="450.75" r="2.25"/>
<circle cx="82.86" cy="462.08" r="2.25"/>
<circle cx="88.69" cy="472.54" r="2.25"/>
<circle cx="94.52" cy="482.13" r="2.25"/>
<circle cx="100.35" cy="490.88" r="2.25"/>
<circle cx="106.18" cy="498.82" r="2.25"/>
<circle cx="112.01" cy="506.01" r="2.25"/>
<circle cx="117.84" cy="512.50" r="2.25"/>
<circle cx="123.67" cy="518.33" r="2.25"/>
<circle cx="129.50" cy="523.55" r="2.25"/>
<circle cx="135.33" cy="528.23" r="2.25"/>
<circle cx="141.16" cy="532.40" r="2.25"/>
<circle cx="146.99" cy="536.12" r="2.25"/>
<circle cx="152.82" cy="539.44" r="2.25"/>
<circle cx="158.65" cy="542.38" r="2.25"/>
<circle cx="164.48" cy="545.00" r="2.25"/>
<circle cx="170.31" cy="547.33" r="2.25"/>
<circle cx="176.14" cy="549.40" r="2.25"/>
<circle cx="181.97" cy="551.23" r="2.25"/>
<circle cx="187.80" cy="552.86" r="2.25"/>
<circle cx="193.63" cy="554.31" r="2.25"/>
<circle cx="199.46" cy="555.60" r="2.25"/>
<circle cx="205.29" cy="556.74" r="2.25"/>
<circle cx="211.12" cy="557.76" r="2.25"/>
<circle cx="216.95" cy="558.67" r="2.25"/>
<circle cx="222.78" cy="559.48" r="2.25"/>
<circle cx="228.61" cy="560.20" r="2.25"/>
<circle cx="234.44" cy="560.84" r="2.25"/>
<circle cx="240.27" cy="561.42" r="2.25"/>
<circle cx="246.10" cy="561.93" r="2.25"/>
<circle cx="251.93" cy="562.39" r="2.25"/>
<circle cx="257.76" cy="562.81" r="2.25"/>
<circle cx="263.59" cy="563.18" r="2.25"/>
<circle cx="269.42" cy="563.52" r="2.25"/>
<circle cx="275.25" cy="563.82" r="2.25"/>
<circle cx="281.08" cy="564.10" r="2.25"/>
<circle cx="286.91" cy="564.34" r="2.25"/>
<circle cx="292.74" cy="564.57" r="2.25"/>
<circle cx="298.57" cy="564.77" r="2.25"/>
<circle cx="304.40" cy="564.96" r="2.25"/>
<circle cx="310.23" cy="565.13" r="2.25"/>
<circle cx="316.06" cy="565.29" r="2.25"/>
<circle cx="321.89" cy="565.43" r="2.25"/>
<circle cx="327.72" cy="565.56" r="2.25"/>
<circle cx="333.55" cy="565.69" r="2.25"/>
<circle cx="339.38" cy="565.80" r="2.25"/>
<circle cx="345.21" cy="565.91" r="2.25"/>
<circle cx="351.04" cy="566.01" r="2.25"/>
<circle cx="356.87" cy="566.10" r="2.25"/>
<circle cx="362.70" cy="566.20" r="2.25"/>
<circle cx="368.53" cy="566.28" r="2.25"/>
</g>
<path d="M60.26,423.23 L61.29,425.88 L62.32,428.50 L63.35,431.09 L64.38,433.64 L65.41,436.16 L66.44,438.65 L67.47,441.11 L68.51,443.53 L69.54,445.92 L70.57,448.27 L71.60,450.59 L72.63,452.87 L73.66,455.13 L74.69,457.35 L75.72,459.53 L76.75,461.68 L77.79,463.80 L78.82,465.88 L79.85,467.93 L80.88,469.95 L81.91,471.93 L82.94,473.88 L83.97,475.80 L85.00,477.68 L86.03,479.54 L87.06,481.36 L88.10,483.15 L89.13,484.90 L90.16,486.63 L91.19,488.32 L92.22,489.99 L93.25,491.62 L94.28,493.23 L95.31,494.80 L96.34,496.35 L97.37,497.86 L98.41,499.35 L99.44,500.81 L100.47,502.24 L101.50,503.64 L102.53,505.02 L103.56,506.37 L104.59,507.69 L105.62,508.98 L106.65,510.25 L107.68,511.50 L108.72,512.72 L109.75,513.91 L110.78,515.08 L111.81,516.23 L112.84,517.35 L113.87,518.45 L114.90,519.53 L115.93,520.59 L116.96,521.62 L117.99,522.63 L119.03,523.62 L120.06,524.59 L121.09,525.54 L122.12,526.47 L123.15,527.38 L124.18,528.26 L125.21,529.13 L126.24,529.99 L127.27,530.82 L128.30,531.63 L129.34,532.43 L130.37,533.21 L131.40,533.97 L132.43,534.72 L133.46,535.45 L134.49,536.16 L135.52,536.86 L136.55,537.54 L137.58,538.21 L138.61,538.86 L139.65,539.49 L140.68,540.12 L141.71,540.73 L142.74,541.32 L143.77,541.90 L144.80,542.47 L145.83,543.03 L146.86,543.57 L147.89,544.11 L148.92,544.62 L149.96,545.13 L150.99,545.63 L152.02,546.11 L153.05,546.59 L154.08,547.05 L155.11,547.50 L156.14,547.95 L157.17,548.38 L158.20,548.80 L159.24,549.21 L160.27,549.62 L161.30,550.01 L162.33,550.40 L163.36,550.77 L164.39,551.14 L165.42,551.50 L166.45,551.85 L167.48,552.19 L168.51,552.53 L169.55,552.86 L170.58,553.18 L171.61,553.49 L172.64,553.79 L173.67,554.09 L174.70,554.38 L175.73,554.67 L176.76,554.95 L177.79,555.22 L178.82,555.48 L179.86,555.74 L180.89,556.00 L181.92,556.25 L182.95,556.49 L183.98,556.73 L185.01,556.96 L186.04,557.18 L187.07,557.40 L188.10,557.62 L189.13,557.83 L190.17,558.04 L191.20,558.24 L192.23,558.44 L193.26,558.63 L194.29,558.82 L195.32,559.00 L196.35,559.18 L197.38,559.35 L198.41,559.53 L199.44,559.69 L200.48,559.86 L201.51,560.02 L202.54,560.18 L203.57,560.33 L204.60,560.48 L205.63,560.62 L206.66,560.77 L207.69,560.91 L208.72,561.04 L209.75,561.18 L210.79,561.31 L211.82,561.44 L212.85,561.56 L213.88,561.68 L214.91,561.80 L215.94,561.92 L216.97,562.03 L218.00,562.15 L219.03,562.26 L220.06,562.36 L221.10,562.47 L222.13,562.57 L223.16,562.67 L224.19,562.77 L225.22,562.86 L226.25,562.96 L227.28,563.05 L228.31,563.14 L229.34,563.23 L230.37,563.31 L231.41,563.40 L232.44,563.48 L233.47,563.56 L234.50,563.64 L235.53,563.71 L236.56,563.79 L237.59,563.86 L238.62,563.94 L239.65,564.01 L240.69,564.08 L241.72,564.14 L242.75,564.21 L243.78,564.27 L244.81,564.34 L245.84,564.40 L246.87,564.46 L247.90,564.52 L248.93,564.58 L249.96,564.64 L251.00,564.69 L252.03,564.75 L253.06,564.80 L254.09,564.85 L255.12,564.90 L256.15,564.95 L257.18,565.00 L258.21,565.05 L259.24,565.10 L260.27,565.15 L261.31,565.19 L262.34,565.24 L263.37,565.28 L264.40,565.32 L265.43,565.37 L266.46,565.41 L267.49,565.45 L268.52,565.49 L269.55,565.52 L270.58,565.56 L271.62,565.60 L272.65,565.64 L273.68,565.67 L274.71,565.71 L275.74,565.74 L276.77,565.78 L277.80,565.81 L278.83,565.84 L279.86,565.87 L280.89,565.90 L281.93,565.93 L282.96,565.96 L283.99,565.99 L285.02,566.02 L286.05,566.05 L287.08,566.08 L288.11,566.11 L289.14,566.13 L290.17,566.16 L291.20,566.18 L292.24,566.21 L293.27,566.23 L294.30,566.26 L295.33,566.28 L296.36,566.30 L297.39,566.33 L298.42,566.35 L299.45,566.37 L300.48,566.39 L301.51,566.42 L302.55,566.44 L303.58,566.46 L304.61,566.48 L305.64,566.50 L306.67,566.52 L307.70,566.54 L308.73,566.55 L309.76,566.57 L310.79,566.59 L311.82,566.61 L312.86,566.63 L313.89,566.64 L314.92,566.66 L315.95,566.68 L316.98,566.69 L318.01,566.71 L319.04,566.72 L320.07,566.74 L321.10,566.76 L322.13,566.77 L323.17,566.78 L324.20,566.80 L325.23,566.81 L326.26,566.83 L327.29,566.84 L328.32,566.85 L329.35,566.87 L330.38,566.88 L331.41,566.89 L332.45,566.91 L333.48,566.92 L334.51,566.93 L335.54,566.94 L336.57,566.96 L337.60,566.97 L338.63,566.98 L339.66,566.99 L340.69,567.00 L341.72,567.01 L342.76,567.02 L343.79,567.03 L344.82,567.04 L345.85,567.05 L346.88,567.06 L347.91,567.08 L348.94,567.08 L349.97,567.09 L351.00,567.10 L352.03,567.11 L353.07,567.12 L354.10,567.13 L355.13,567.14 L356.16,567.15 L357.19,567.16 L358.22,567.17 L359.25,567.18 L360.28,567.19 L361.31,567.19 L362.34,567.20 L363.38,567.21 L364.41,567.22 L365.44,567.23 L366.47,567.24 L367.50,567.24 L368.53,567.25" stroke="#8000ff"/>
<path d="M60.26,452.18 L61.29,454.86 L62.32,457.48 L63.35,460.06 L64.38,462.59 L65.41,465.07 L66.44,467.50 L67.47,469.89 L68.51,472.23 L69.54,474.52 L70.57,476.77 L71.60,478.97 L72.63,481.12 L73.66,483.23 L74.69,485.30 L75.72,487.32 L76.75,489.30 L77.79,491.23 L78.82,493.12 L79.85,494.98 L80.88,496.79 L81.91,498.56 L82.94,500.29 L83.97,501.98 L85.00,503.64 L86.03,505.25 L87.06,506.83 L88.10,508.37 L89.13,509.88 L90.16,511.35 L91.19,512.78 L92.22,514.18 L93.25,515.55 L94.28,516.89 L95.31,518.19 L96.34,519.46 L97.37,520.70 L98.41,521.91 L99.44,523.09 L100.47,524.24 L101.50,525.37 L102.53,526.46 L103.56,527.53 L104.59,528.57 L105.62,529.59 L106.65,530.57 L107.68,531.54 L108.72,532.48 L109.75,533.39 L110.78,534.29 L111.81,535.16 L112.84,536.00 L113.87,536.83 L114.90,537.63 L115.93,538.42 L116.96,539.18 L117.99,539.92 L119.03,540.65 L120.06,541.35 L121.09,542.04 L122.12,542.71 L123.15,543.36 L124.18,543.99 L125.21,544.61 L126.24,545.21 L127.27,545.79 L128.30,546.36 L129.34,546.92 L130.37,547.46 L131.40,547.98 L132.43,548.49 L133.46,548.99 L134.49,549.48 L135.52,549.95 L136.55,550.41 L137.58,550.86 L138.61,551.29 L139.65,551.71 L140.68,552.13 L141.71,552.53 L142.74,552.92 L143.77,553.30 L144.80,553.67 L145.83,554.03 L146.86,554.38 L147.89,554.72 L148.92,555.05 L149.96,555.38 L150.99,555.69 L152.02,556.00 L153.05,556.29 L154.08,556.58 L155.11,556.87 L156.14,557.14 L157.17,557.41 L158.20,557.67 L159.24,557.92 L160.27,558.17 L161.30,558.41 L162.33,558.64 L163.36,558.87 L164.39,559.09 L165.42,559.31 L166.45,559.52 L167.48,559.72 L168.51,559.92 L169.55,560.12 L170.58,560.31 L171.61,560.49 L172.64,560.67 L173.67,560.84 L174.70,561.01 L175.73,561.18 L176.76,561.34 L177.79,561.50 L178.82,561.65 L179.86,561.80 L180.89,561.94 L181.92,562.08 L182.95,562.22 L183.98,562.36 L185.01,562.49 L186.04,562.61 L187.07,562.74 L188.10,562.86 L189.13,562.98 L190.17,563.09 L191.20,563.20 L192.23,563.31 L193.26,563.42 L194.29,563.52 L195.32,563.62 L196.35,563.72 L197.38,563.82 L198.41,563.91 L199.44,564.00 L200.48,564.09 L201.51,564.18 L202.54,564.26 L203.57,564.34 L204.60,564.43 L205.63,564.50 L206.66,564.58 L207.69,564.65 L208.72,564.73 L209.75,564.80 L210.79,564.87 L211.82,564.94 L212.85,565.00 L213.88,565.07 L214.91,565.13 L215.94,565.19 L216.97,565.25 L218.00,565.31 L219.03,565.37 L220.06,565.42 L221.10,565.48 L222.13,565.53 L223.16,565.58 L224.19,565.63 L225.22,565.68 L226.25,565.73 L227.28,565.78 L228.31,565.82 L229.34,565.87 L230.37,565.91 L231.41,565.95 L232.44,566.00 L233.47,566.04 L234.50,566.08 L235.53,566.12 L236.56,566.16 L237.59,566.19 L238.62,566.23 L239.65,566.27 L240.69,566.30 L241.72,566.33 L242.75,566.37 L243.78,566.40 L244.81,566.43 L245.84,566.46 L246.87,566.50 L247.90,566.53 L248.93,566.55 L249.96,566.58 L251.00,566.61 L252.03,566.64 L253.06,566.67 L254.09,566.69 L255.12,566.72 L256.15,566.74 L257.18,566.77 L258.21,566.79 L259.24,566.82 L260.27,566.84 L261.31,566.86 L262.34,566.88 L263.37,566.91 L264.40,566.93 L265.43,566.95 L266.46,566.97 L267.49,566.99 L268.52,567.01 L269.55,567.03 L270.58,567.05 L271.62,567.07 L272.65,567.08 L273.68,567.10 L274.71,567.12 L275.74,567.14 L276.77,567.15 L277.80,567.17 L278.83,567.19 L279.86,567.20 L280.89,567.22 L281.93,567.23 L282.96,567.25 L283.99,567.26 L285.02,567.28 L286.05,567.29 L287.08,567.31 L288.11,567.32 L289.14,567.33 L290.17,567.35 L291.20,567.36 L292.24,567.37 L293.27,567.39 L294.30,567.40 L295.33,567.41 L296.36,567.42 L297.39,567.44 L298.42,567.45 L299.45,567.46 L300.48,567.47 L301.51,567.48 L302.55,567.49 L303.58,567.50 L304.61,567.51 L305.64,567.52 L306.67,567.54 L307.70,567.55 L308.73,567.56 L309.76,567.57 L310.79,567.58 L311.82,567.58 L312.86,567.59 L313.89,567.60 L314.92,567.61 L315.95,567.62 L316.98,567.63 L318.01,567.64 L319.04,567.65 L320.07,567.66 L321.10,567.67 L322.13,567.68 L323.17,567.68 L324.20,567.69 L325.23,567.70 L326.26,567.71 L327.29,567.72 L328.32,567.72 L329.35,567.73 L330.38,567.74 L331.41,567.75 L332.45,567.76 L333.48,567.76 L334.51,567.77 L335.54,567.78 L336.57,567.79 L337.60,567.79 L338.63,567.80 L339.66,567.81 L340.69,567.82 L341.72,567.82 L342.76,567.83 L343.79,567.84 L344.82,567.84 L345.85,567.85 L346.88,567.86 L347.91,567.87 L348.94,567.87 L349.97,567.88 L351.00,567.89 L352.03,567.89 L353.07,567.90 L354.10,567.91 L355.13,567.91 L356.16,567.92 L357.19,567.93 L358.22,567.93 L359.25,567.94 L360.28,567.95 L361.31,567.95 L362.34,567.96 L363.38,567.97 L364.41,567.97 L365.44,567.98 L366.47,567.98 L367.50,567.99 L368.53,568.00" stroke="#008080"/>
<path d="M60.26,491.01 L61.29,493.11 L62.32,495.16 L63.35,497.15 L64.38,499.09 L65.41,500.97 L66.44,502.81 L67.47,504.59 L68.51,506.33 L69.54,508.02 L70.57,509.67 L71.60,511.27 L72.63,512.82 L73.66,514.34 L74.69,515.81 L75.72,517.24 L76.75,518.64 L77.79,519.99 L78.82,521.31 L79.85,522.59 L80.88,523.84 L81.91,525.05 L82.94,526.23 L83.97,527.37 L85.00,528.49 L86.03,529.57 L87.06,530.63 L88.10,531.65 L89.13,532.65 L90.16,533.62 L91.19,534.56 L92.22,535.47 L93.25,536.36 L94.28,537.23 L95.31,538.07 L96.34,538.89 L97.37,539.68 L98.41,540.45 L99.44,541.20 L100.47,541.93 L101.50,542.64 L102.53,543.33 L103.56,544.00 L104.59,544.66 L105.62,545.29 L106.65,545.91 L107.68,546.50 L108.72,547.09 L109.75,547.65 L110.78,548.20 L111.81,548.74 L112.84,549.26 L113.87,549.76 L114.90,550.25 L115.93,550.73 L116.96,551.19 L117.99,551.65 L119.03,552.08 L120.06,552.51 L121.09,552.93 L122.12,553.33 L123.15,553.72 L124.18,554.10 L125.21,554.47 L126.24,554.83 L127.27,555.18 L128.30,555.52 L129.34,555.85 L130.37,556.18 L131.40,556.49 L132.43,556.79 L133.46,557.09 L134.49,557.38 L135.52,557.66 L136.55,557.93 L137.58,558.19 L138.61,558.45 L139.65,558.70 L140.68,558.95 L141.71,559.18 L142.74,559.41 L143.77,559.64 L144.80,559.85 L145.83,560.07 L146.86,560.27 L147.89,560.47 L148.92,560.67 L149.96,560.86 L150.99,561.04 L152.02,561.22 L153.05,561.40 L154.08,561.57 L155.11,561.73 L156.14,561.90 L157.17,562.05 L158.20,562.21 L159.24,562.35 L160.27,562.50 L161.30,562.64 L162.33,562.78 L163.36,562.91 L164.39,563.04 L165.42,563.17 L166.45,563.29 L167.48,563.41 L168.51,563.53 L169.55,563.64 L170.58,563.75 L171.61,563.86 L172.64,563.97 L173.67,564.07 L174.70,564.17 L175.73,564.27 L176.76,564.36 L177.79,564.45 L178.82,564.54 L179.86,564.63 L180.89,564.71 L181.92,564.80 L182.95,564.88 L183.98,564.96 L185.01,565.03 L186.04,565.11 L187.07,565.18 L188.10,565.25 L189.13,565.32 L190.17,565.39 L191.20,565.46 L192.23,565.52 L193.26,565.58 L194.29,565.65 L195.32,565.71 L196.35,565.76 L197.38,565.82 L198.41,565.88 L199.44,565.93 L200.48,565.98 L201.51,566.03 L202.54,566.08 L203.57,566.13 L204.60,566.18 L205.63,566.23 L206.66,566.27 L207.69,566.32 L208.72,566.36 L209.75,566.40 L210.79,566.44 L211.82,566.48 L212.85,566.52 L213.88,566.56 L214.91,566.60 L215.94,566.64 L216.97,566.67 L218.00,566.71 L219.03,566.74 L220.06,566.77 L221.10,566.81 L222.13,566.84 L223.16,566.87 L224.19,566.90 L225.22,566.93 L226.25,566.96 L227.28,566.99 L228.31,567.01 L229.34,567.04 L230.37,567.07 L231.41,567.09 L232.44,567.12 L233.47,567.14 L234.50,567.17 L235.53,567.19 L236.56,567.21 L237.59,567.24 L238.62,567.26 L239.65,567.28 L240.69,567.30 L241.72,567.32 L242.75,567.34 L243.78,567.36 L244.81,567.38 L245.84,567.40 L246.87,567.42 L247.90,567.44 L248.93,567.46 L249.96,567.47 L251.00,567.49 L252.03,567.51 L253.06,567.52 L254.09,567.54 L255.12,567.55 L256.15,567.57 L257.18,567.58 L258.21,567.60 L259.24,567.61 L260.27,567.63 L261.31,567.64 L262.34,567.65 L263.37,567.67 L264.40,567.68 L265.43,567.69 L266.46,567.71 L267.49,567.72 L268.52,567.73 L269.55,567.74 L270.58,567.75 L271.62,567.76 L272.65,567.78 L273.68,567.79 L274.71,567.80 L275.74,567.81 L276.77,567.82 L277.80,567.83 L278.83,567.84 L279.86,567.85 L280.89,567.86 L281.93,567.87 L282.96,567.88 L283.99,567.88 L285.02,567.89 L286.05,567.90 L287.08,567.91 L288.11,567.92 L289.14,567.93 L290.17,567.93 L291.20,567.94 L292.24,567.95 L293.27,567.96 L294.30,567.96 L295.33,567.97 L296.36,567.98 L297.39,567.99 L298.42,567.99 L299.45,568.00 L300.48,568.01 L301.51,568.01 L302.55,568.02 L303.58,568.03 L304.61,568.03 L305.64,568.04 L306.67,568.04 L307.70,568.05 L308.73,568.06 L309.76,568.06 L310.79,568.07 L311.82,568.07 L312.86,568.08 L313.89,568.08 L314.92,568.09 L315.95,568.10 L316.98,568.10 L318.01,568.11 L319.04,568.11 L320.07,568.12 L321.10,568.12 L322.13,568.12 L323.17,568.13 L324.20,568.13 L325.23,568.14 L326.26,568.14 L327.29,568.15 L328.32,568.15 L329.35,568.16 L330.38,568.16 L331.41,568.16 L332.45,568.17 L333.48,568.17 L334.51,568.18 L335.54,568.18 L336.57,568.18 L337.60,568.19 L338.63,568.19 L339.66,568.20 L340.69,568.20 L341.72,568.20 L342.76,568.21 L343.79,568.21 L344.82,568.21 L345.85,568.22 L346.88,568.22 L347.91,568.22 L348.94,568.23 L349.97,568.23 L351.00,568.23 L352.03,568.24 L353.07,568.24 L354.10,568.24 L355.13,568.25 L356.16,568.25 L357.19,568.25 L358.22,568.26 L359.25,568.26 L360.28,568.26 L361.31,568.27 L362.34,568.27 L363.38,568.27 L364.41,568.27 L365.44,568.28 L366.47,568.28 L367.50,568.28 L368.53,568.29" stroke="#808000"/>
<path d="M60.26,514.37 L61.29,515.92 L62.32,517.41 L63.35,518.87 L64.38,520.28 L65.41,521.65 L66.44,522.98 L67.47,524.27 L68.51,525.52 L69.54,526.73 L70.57,527.91 L71.60,529.05 L72.63,530.16 L73.66,531.23 L74.69,532.28 L75.72,533.29 L76.75,534.28 L77.79,535.23 L78.82,536.16 L79.85,537.05 L80.88,537.93 L81.91,538.77 L82.94,539.60 L83.97,540.39 L85.00,541.17 L86.03,541.92 L87.06,542.65 L88.10,543.36 L89.13,544.05 L90.16,544.71 L91.19,545.36 L92.22,545.99 L93.25,546.60 L94.28,547.20 L95.31,547.77 L96.34,548.33 L97.37,548.87 L98.41,549.40 L99.44,549.91 L100.47,550.41 L101.50,550.89 L102.53,551.36 L103.56,551.82 L104.59,552.26 L105.62,552.69 L106.65,553.11 L107.68,553.52 L108.72,553.91 L109.75,554.29 L110.78,554.67 L111.81,555.03 L112.84,555.38 L113.87,555.72 L114.90,556.05 L115.93,556.37 L116.96,556.69 L117.99,556.99 L119.03,557.29 L120.06,557.57 L121.09,557.85 L122.12,558.13 L123.15,558.39 L124.18,558.65 L125.21,558.90 L126.24,559.14 L127.27,559.37 L128.30,559.60 L129.34,559.83 L130.37,560.04 L131.40,560.26 L132.43,560.46 L133.46,560.66 L134.49,560.85 L135.52,561.04 L136.55,561.23 L137.58,561.41 L138.61,561.58 L139.65,561.75 L140.68,561.91 L141.71,562.07 L142.74,562.23 L143.77,562.38 L144.80,562.53 L145.83,562.67 L146.86,562.81 L147.89,562.95 L148.92,563.08 L149.96,563.21 L150.99,563.33 L152.02,563.45 L153.05,563.57 L154.08,563.69 L155.11,563.80 L156.14,563.91 L157.17,564.02 L158.20,564.12 L159.24,564.22 L160.27,564.32 L161.30,564.42 L162.33,564.51 L163.36,564.60 L164.39,564.69 L165.42,564.78 L166.45,564.86 L167.48,564.94 L168.51,565.02 L169.55,565.10 L170.58,565.18 L171.61,565.25 L172.64,565.33 L173.67,565.40 L174.70,565.46 L175.73,565.53 L176.76,565.60 L177.79,565.66 L178.82,565.72 L179.86,565.78 L180.89,565.84 L181.92,565.90 L182.95,565.95 L183.98,566.01 L185.01,566.06 L186.04,566.11 L187.07,566.17 L188.10,566.22 L189.13,566.26 L190.17,566.31 L191.20,566.36 L192.23,566.40 L193.26,566.45 L194.29,566.49 L195.32,566.53 L196.35,566.57 L197.38,566.61 L198.41,566.65 L199.44,566.69 L200.48,566.72 L201.51,566.76 L202.54,566.80 L203.57,566.83 L204.60,566.86 L205.63,566.90 L206.66,566.93 L207.69,566.96 L208.72,566.99 L209.75,567.02 L210.79,567.05 L211.82,567.08 L212.85,567.11 L213.88,567.13 L214.91,567.16 L215.94,567.19 L216.97,567.21 L218.00,567.24 L219.03,567.26 L220.06,567.28 L221.10,567.31 L222.13,567.33 L223.16,567.35 L224.19,567.37 L225.22,567.39 L226.25,567.42 L227.28,567.44 L228.31,567.46 L229.34,567.47 L230.37,567.49 L231.41,567.51 L232.44,567.53 L233.47,567.55 L234.50,567.57 L235.53,567.58 L236.56,567.60 L237.59,567.62 L238.62,567.63 L239.65,567.65 L240.69,567.66 L241.72,567.68 L242.75,567.69 L243.78,567.71 L244.81,567.72 L245.84,567.73 L246.87,567.75 L247.90,567.76 L248.93,567.77 L249.96,567.79 L251.00,567.80 L252.03,567.81 L253.06,567.82 L254.09,567.83 L255.12,567.85 L256.15,567.86 L257.18,567.87 L258.21,567.88 L259.24,567.89 L260.27,567.90 L261.31,567.91 L262.34,567.92 L263.37,567.93 L264.40,567.94 L265.43,567.95 L266.46,567.96 L267.49,567.97 L268.52,567.97 L269.55,567.98 L270.58,567.99 L271.62,568.00 L272.65,568.01 L273.68,568.02 L274.71,568.02 L275.74,568.03 L276.77,568.04 L277.80,568.05 L278.83,568.05 L279.86,568.06 L280.89,568.07 L281.93,568.07 L282.96,568.08 L283.99,568.09 L285.02,568.09 L286.05,568.10 L287.08,568.11 L288.11,568.11 L289.14,568.12 L290.17,568.13 L291.20,568.13 L292.24,568.14 L293.27,568.14 L294.30,568.15 L295.33,568.15 L296.36,568.16 L297.39,568.16 L298.42,568.17 L299.45,568.17 L300.48,568.18 L301.51,568.18 L302.55,568.19 L303.58,568.19 L304.61,568.20 L305.64,568.20 L306.67,568.21 L307.70,568.21 L308.73,568.21 L309.76,568.22 L310.79,568.22 L311.82,568.23 L312.86,568.23 L313.89,568.24 L314.92,568.24 L315.95,568.24 L316.98,568.25 L318.01,568.25 L319.04,568.25 L320.07,568.26 L321.10,568.26 L322.13,568.26 L323.17,568.27 L324.20,568.27 L325.23,568.27 L326.26,568.28 L327.29,568.28 L328.32,568.28 L329.35,568.29 L330.38,568.29 L331.41,568.29 L332.45,568.30 L333.48,568.30 L334.51,568.30 L335.54,568.30 L336.57,568.31 L337.60,568.31 L338.63,568.31 L339.66,568.32 L340.69,568.32 L341.72,568.32 L342.76,568.32 L343.79,568.33 L344.82,568.33 L345.85,568.33 L346.88,568.33 L347.91,568.34 L348.94,568.34 L349.97,568.34 L351.00,568.34 L352.03,568.34 L353.07,568.35 L354.10,568.35 L355.13,568.35 L356.16,568.35 L357.19,568.36 L358.22,568.36 L359.25,568.36 L360.28,568.36 L361.31,568.36 L362.34,568.37 L363.38,568.37 L364.41,568.37 L365.44,568.37 L366.47,568.37 L367.50,568.38 L368.53,568.38" stroke="#00ffff"/>
</g>
<rect x="70.9" y="362.8" width="76.40" height="149.50" fill="#fff" stroke="#858585" stroke-width="1"/>
<path d="M147.3,362.8 V512.3 H70.9" fill="none" stroke="#6a6a6a" stroke-width="1"/>
<text transform="translate(73.6,373.4) scale(0.945,1)" font-size="10.6"><tspan font-size="9.4">&#956;</tspan> (top to bottom)</text>
<line x1="84.3" y1="382.20" x2="108.2" y2="382.20" stroke="#ff0000" stroke-width="2.0"/>
<text transform="translate(110,386.00) scale(0.945,1)" font-size="10.6">0.660</text>
<line x1="84.3" y1="394.65" x2="108.2" y2="394.65" stroke="#00ff00" stroke-width="2.0"/>
<text transform="translate(110,398.45) scale(0.945,1)" font-size="10.6">0.680</text>
<line x1="84.3" y1="407.10" x2="108.2" y2="407.10" stroke="#ff8000" stroke-width="2.0"/>
<text transform="translate(110,410.90) scale(0.945,1)" font-size="10.6">0.700</text>
<line x1="84.3" y1="419.55" x2="108.2" y2="419.55" stroke="#ff00ff" stroke-width="2.0"/>
<text transform="translate(110,423.35) scale(0.945,1)" font-size="10.6">0.720</text>
<line x1="84.3" y1="432.00" x2="108.2" y2="432.00" stroke="#800000" stroke-width="2.0"/>
<text transform="translate(110,435.80) scale(0.945,1)" font-size="10.6">0.740</text>
<line x1="84.3" y1="444.45" x2="108.2" y2="444.45" stroke="#008000" stroke-width="2.0"/>
<text transform="translate(110,448.25) scale(0.945,1)" font-size="10.6">0.780</text>
<line x1="84.3" y1="456.90" x2="108.2" y2="456.90" stroke="#0000ff" stroke-width="2.0"/>
<circle cx="96.2" cy="456.90" r="2.25" fill="#fff" stroke="#0000ff" stroke-width="1.05"/>
<text transform="translate(110,460.70) scale(0.945,1)" font-size="10.6">0.835</text>
<line x1="84.3" y1="469.35" x2="108.2" y2="469.35" stroke="#8000ff" stroke-width="2.0"/>
<text transform="translate(110,473.15) scale(0.945,1)" font-size="10.6">0.900</text>
<line x1="84.3" y1="481.80" x2="108.2" y2="481.80" stroke="#008080" stroke-width="2.0"/>
<text transform="translate(110,485.60) scale(0.945,1)" font-size="10.6">1.100</text>
<line x1="84.3" y1="494.25" x2="108.2" y2="494.25" stroke="#808000" stroke-width="2.0"/>
<text transform="translate(110,498.05) scale(0.945,1)" font-size="10.6">1.500</text>
<line x1="84.3" y1="506.70" x2="108.2" y2="506.70" stroke="#00ffff" stroke-width="2.0"/>
<text transform="translate(110,510.50) scale(0.945,1)" font-size="10.6">1.900</text>
<rect x="198.7" y="360.0" width="188.5" height="118.39999999999998" fill="#fff"/>
<g fill="none" stroke-width="1.8" stroke-linecap="round" stroke-linejoin="round">
<path d="M210.20,366.15 L210.67,366.32 L211.13,366.48 L211.59,366.65 L212.06,366.81 L212.52,366.98 L212.99,367.14 L213.45,367.30 L213.91,367.47 L214.38,367.63 L214.84,367.79 L215.31,367.95 L215.77,368.11 L216.23,368.27 L216.70,368.43 L217.16,368.59 L217.63,368.74 L218.09,368.90 L218.55,369.06 L219.02,369.21 L219.48,369.37 L219.95,369.52 L220.41,369.68 L220.87,369.83 L221.34,369.98 L221.80,370.14 L222.27,370.29 L222.73,370.44 L223.19,370.59 L223.66,370.74 L224.12,370.89 L224.59,371.03 L225.05,371.18 L225.52,371.33 L225.98,371.47 L226.44,371.62 L226.91,371.76 L227.37,371.91 L227.84,372.05 L228.30,372.19 L228.76,372.33 L229.23,372.47 L229.69,372.61 L230.16,372.75 L230.62,372.89 L231.08,373.03 L231.55,373.17 L232.01,373.30 L232.48,373.44 L232.94,373.57 L233.40,373.70 L233.87,373.84 L234.33,373.97 L234.80,374.10 L235.26,374.23 L235.72,374.36 L236.19,374.49 L236.65,374.62 L237.12,374.74 L237.58,374.87 L238.04,374.99 L238.51,375.12 L238.97,375.24 L239.44,375.36 L239.90,375.48 L240.36,375.60 L240.83,375.72 L241.29,375.84 L241.76,375.95 L242.22,376.07 L242.68,376.18 L243.15,376.30 L243.61,376.41 L244.08,376.52 L244.54,376.63 L245.00,376.74 L245.47,376.85 L245.93,376.96 L246.40,377.06 L246.86,377.17 L247.32,377.27 L247.79,377.38 L248.25,377.48 L248.72,377.58 L249.18,377.68 L249.64,377.77 L250.11,377.87 L250.57,377.97 L251.04,378.06 L251.50,378.15 L251.96,378.25 L252.43,378.34 L252.89,378.43 L253.36,378.51 L253.82,378.60 L254.28,378.69 L254.75,378.77 L255.21,378.85 L255.68,378.94 L256.14,379.02 L256.60,379.09 L257.07,379.17 L257.53,379.25 L258.00,379.32 L258.46,379.40 L258.92,379.47 L259.39,379.54 L259.85,379.61 L260.32,379.68 L260.78,379.75 L261.24,379.81 L261.71,379.88 L262.17,379.94 L262.64,380.00 L263.10,380.06 L263.56,380.12 L264.03,380.18 L264.49,380.23 L264.96,380.29 L265.42,380.34 L265.88,380.40 L266.35,380.45 L266.81,380.50 L267.28,380.54 L267.74,380.59 L268.20,380.64 L268.67,380.68 L269.13,380.73 L269.60,380.77 L270.06,380.81 L270.53,380.85 L270.99,380.89 L271.45,380.92 L271.92,380.96 L272.38,380.99 L272.85,381.03 L273.31,381.06 L273.77,381.09 L274.24,381.12 L274.70,381.15 L275.17,381.18 L275.63,381.21 L276.09,381.23 L276.56,381.26 L277.02,381.28 L277.49,381.31 L277.95,381.33 L278.41,381.35 L278.88,381.37 L279.34,381.39 L279.81,381.41 L280.27,381.42 L280.73,381.44 L281.20,381.46 L281.66,381.47 L282.13,381.49 L282.59,381.50 L283.05,381.52 L283.52,381.53 L283.98,381.54 L284.45,381.55 L284.91,381.56 L285.37,381.57 L285.84,381.58 L286.30,381.59 L286.77,381.60 L287.23,381.61 L287.69,381.61 L288.16,381.62 L288.62,381.63 L289.09,381.63 L289.55,381.64 L290.01,381.64 L290.48,381.65 L290.94,381.65 L291.41,381.66 L291.87,381.66 L292.33,381.66 L292.80,381.67 L293.26,381.67 L293.73,381.67 L294.19,381.68 L294.65,381.68 L295.12,381.68 L295.58,381.68 L296.05,381.69 L296.51,381.69 L296.97,381.69 L297.44,381.69 L297.90,381.69 L298.37,381.69 L298.83,381.69 L299.29,381.69 L299.76,381.70 L300.22,381.70 L300.69,381.70 L301.15,381.70 L301.61,381.70 L302.08,381.70 L302.54,381.70 L303.01,381.70 L303.47,381.70 L303.93,381.70 L304.40,381.70 L304.86,381.70 L305.33,381.70 L305.79,381.70 L306.25,381.70 L306.72,381.70 L307.18,381.70 L307.65,381.70 L308.11,381.70 L308.57,381.70 L309.04,381.70 L309.50,381.70 L309.97,381.70 L310.43,381.70 L310.89,381.70 L311.36,381.70 L311.82,381.70 L312.29,381.70 L312.75,381.70 L313.21,381.70 L313.68,381.70 L314.14,381.70 L314.61,381.70 L315.07,381.70 L315.54,381.70 L316.00,381.70 L316.46,381.70 L316.93,381.70 L317.39,381.70 L317.86,381.70 L318.32,381.70 L318.78,381.70 L319.25,381.70 L319.71,381.70 L320.18,381.70 L320.64,381.70 L321.10,381.70 L321.57,381.70 L322.03,381.70 L322.50,381.70 L322.96,381.70 L323.42,381.70 L323.89,381.70 L324.35,381.70 L324.82,381.70 L325.28,381.70 L325.74,381.70 L326.21,381.70 L326.67,381.70 L327.14,381.70 L327.60,381.70 L328.06,381.70 L328.53,381.70 L328.99,381.70 L329.46,381.70 L329.92,381.70 L330.38,381.70 L330.85,381.70 L331.31,381.70 L331.78,381.70 L332.24,381.70 L332.70,381.70 L333.17,381.70 L333.63,381.70 L334.10,381.70 L334.56,381.70 L335.02,381.70 L335.49,381.70 L335.95,381.70 L336.42,381.70 L336.88,381.70 L337.34,381.70 L337.81,381.70 L338.27,381.70 L338.74,381.70 L339.20,381.70 L339.66,381.70 L340.13,381.70 L340.59,381.70 L341.06,381.70 L341.52,381.70 L341.98,381.70 L342.45,381.70 L342.91,381.70 L343.38,381.70 L343.84,381.70 L344.30,381.70 L344.77,381.70 L345.23,381.70 L345.70,381.70 L346.16,381.70 L346.62,381.70 L347.09,381.70 L347.55,381.70 L348.02,381.70 L348.48,381.70 L348.94,381.70" stroke="#ff0000"/>
<path d="M210.20,366.49 L210.69,366.67 L211.18,366.85 L211.66,367.03 L212.15,367.21 L212.64,367.40 L213.12,367.58 L213.61,367.76 L214.10,367.93 L214.58,368.11 L215.07,368.29 L215.56,368.47 L216.04,368.64 L216.53,368.82 L217.02,369.00 L217.50,369.17 L217.99,369.34 L218.48,369.52 L218.96,369.69 L219.45,369.86 L219.94,370.03 L220.42,370.20 L220.91,370.37 L221.40,370.54 L221.89,370.71 L222.37,370.88 L222.86,371.05 L223.35,371.21 L223.83,371.38 L224.32,371.55 L224.81,371.71 L225.29,371.87 L225.78,372.04 L226.27,372.20 L226.75,372.36 L227.24,372.52 L227.73,372.68 L228.21,372.84 L228.70,373.00 L229.19,373.16 L229.67,373.32 L230.16,373.47 L230.65,373.63 L231.13,373.78 L231.62,373.94 L232.11,374.09 L232.59,374.25 L233.08,374.40 L233.57,374.55 L234.05,374.70 L234.54,374.85 L235.03,375.00 L235.51,375.15 L236.00,375.29 L236.49,375.44 L236.98,375.59 L237.46,375.73 L237.95,375.88 L238.44,376.02 L238.92,376.16 L239.41,376.30 L239.90,376.45 L240.38,376.59 L240.87,376.72 L241.36,376.86 L241.84,377.00 L242.33,377.14 L242.82,377.27 L243.30,377.41 L243.79,377.54 L244.28,377.68 L244.76,377.81 L245.25,377.94 L245.74,378.07 L246.22,378.20 L246.71,378.33 L247.20,378.46 L247.68,378.58 L248.17,378.71 L248.66,378.83 L249.14,378.96 L249.63,379.08 L250.12,379.20 L250.61,379.32 L251.09,379.44 L251.58,379.56 L252.07,379.68 L252.55,379.80 L253.04,379.91 L253.53,380.03 L254.01,380.14 L254.50,380.25 L254.99,380.36 L255.47,380.48 L255.96,380.58 L256.45,380.69 L256.93,380.80 L257.42,380.91 L257.91,381.01 L258.39,381.11 L258.88,381.22 L259.37,381.32 L259.85,381.42 L260.34,381.51 L260.83,381.61 L261.31,381.71 L261.80,381.80 L262.29,381.90 L262.77,381.99 L263.26,382.08 L263.75,382.17 L264.24,382.26 L264.72,382.35 L265.21,382.43 L265.70,382.52 L266.18,382.60 L266.67,382.68 L267.16,382.76 L267.64,382.84 L268.13,382.92 L268.62,382.99 L269.10,383.07 L269.59,383.14 L270.08,383.21 L270.56,383.28 L271.05,383.35 L271.54,383.42 L272.02,383.48 L272.51,383.55 L273.00,383.61 L273.48,383.67 L273.97,383.73 L274.46,383.79 L274.94,383.85 L275.43,383.90 L275.92,383.96 L276.40,384.01 L276.89,384.06 L277.38,384.11 L277.86,384.16 L278.35,384.21 L278.84,384.25 L279.33,384.30 L279.81,384.34 L280.30,384.38 L280.79,384.42 L281.27,384.46 L281.76,384.50 L282.25,384.53 L282.73,384.57 L283.22,384.60 L283.71,384.63 L284.19,384.66 L284.68,384.69 L285.17,384.72 L285.65,384.75 L286.14,384.77 L286.63,384.80 L287.11,384.82 L287.60,384.84 L288.09,384.87 L288.57,384.89 L289.06,384.90 L289.55,384.92 L290.03,384.94 L290.52,384.96 L291.01,384.97 L291.49,384.99 L291.98,385.00 L292.47,385.01 L292.96,385.02 L293.44,385.04 L293.93,385.05 L294.42,385.06 L294.90,385.07 L295.39,385.07 L295.88,385.08 L296.36,385.09 L296.85,385.10 L297.34,385.10 L297.82,385.11 L298.31,385.11 L298.80,385.12 L299.28,385.12 L299.77,385.13 L300.26,385.13 L300.74,385.14 L301.23,385.14 L301.72,385.14 L302.20,385.14 L302.69,385.15 L303.18,385.15 L303.66,385.15 L304.15,385.15 L304.64,385.15 L305.12,385.16 L305.61,385.16 L306.10,385.16 L306.59,385.16 L307.07,385.16 L307.56,385.16 L308.05,385.16 L308.53,385.16 L309.02,385.16 L309.51,385.16 L309.99,385.16 L310.48,385.16 L310.97,385.16 L311.45,385.16 L311.94,385.16 L312.43,385.16 L312.91,385.16 L313.40,385.16 L313.89,385.16 L314.37,385.16 L314.86,385.16 L315.35,385.16 L315.83,385.16 L316.32,385.16 L316.81,385.16 L317.29,385.16 L317.78,385.16 L318.27,385.17 L318.75,385.17 L319.24,385.17 L319.73,385.17 L320.21,385.17 L320.70,385.17 L321.19,385.17 L321.68,385.17 L322.16,385.17 L322.65,385.17 L323.14,385.17 L323.62,385.17 L324.11,385.17 L324.60,385.17 L325.08,385.17 L325.57,385.17 L326.06,385.17 L326.54,385.17 L327.03,385.17 L327.52,385.17 L328.00,385.17 L328.49,385.17 L328.98,385.17 L329.46,385.17 L329.95,385.17 L330.44,385.17 L330.92,385.17 L331.41,385.17 L331.90,385.17 L332.38,385.17 L332.87,385.17 L333.36,385.17 L333.84,385.17 L334.33,385.17 L334.82,385.17 L335.31,385.17 L335.79,385.17 L336.28,385.17 L336.77,385.17 L337.25,385.17 L337.74,385.17 L338.23,385.17 L338.71,385.17 L339.20,385.17 L339.69,385.17 L340.17,385.17 L340.66,385.17 L341.15,385.17 L341.63,385.17 L342.12,385.17 L342.61,385.17 L343.09,385.17 L343.58,385.17 L344.07,385.17 L344.55,385.17 L345.04,385.17 L345.53,385.17 L346.01,385.17 L346.50,385.17 L346.99,385.17 L347.47,385.17 L347.96,385.17 L348.45,385.17 L348.94,385.17 L349.42,385.17 L349.91,385.17 L350.40,385.17 L350.88,385.17 L351.37,385.17 L351.86,385.17 L352.34,385.17 L352.83,385.17 L353.32,385.17 L353.80,385.17 L354.29,385.17 L354.78,385.17 L355.26,385.17 L355.75,385.17" stroke="#00ff00"/>
<path d="M210.20,366.83 L210.72,367.03 L211.25,367.23 L211.77,367.42 L212.29,367.62 L212.81,367.81 L213.34,368.01 L213.86,368.20 L214.38,368.40 L214.90,368.59 L215.43,368.79 L215.95,368.98 L216.47,369.18 L216.99,369.37 L217.52,369.56 L218.04,369.76 L218.56,369.95 L219.08,370.14 L219.61,370.33 L220.13,370.53 L220.65,370.72 L221.17,370.91 L221.70,371.10 L222.22,371.29 L222.74,371.48 L223.26,371.67 L223.79,371.86 L224.31,372.05 L224.83,372.24 L225.35,372.43 L225.88,372.61 L226.40,372.80 L226.92,372.99 L227.44,373.18 L227.97,373.36 L228.49,373.55 L229.01,373.73 L229.53,373.92 L230.06,374.10 L230.58,374.29 L231.10,374.47 L231.62,374.65 L232.15,374.84 L232.67,375.02 L233.19,375.20 L233.71,375.38 L234.24,375.56 L234.76,375.74 L235.28,375.92 L235.80,376.10 L236.33,376.28 L236.85,376.46 L237.37,376.63 L237.89,376.81 L238.42,376.99 L238.94,377.16 L239.46,377.34 L239.98,377.51 L240.51,377.68 L241.03,377.85 L241.55,378.03 L242.07,378.20 L242.60,378.37 L243.12,378.54 L243.64,378.70 L244.16,378.87 L244.69,379.04 L245.21,379.20 L245.73,379.37 L246.25,379.53 L246.78,379.70 L247.30,379.86 L247.82,380.02 L248.34,380.18 L248.87,380.34 L249.39,380.50 L249.91,380.66 L250.43,380.81 L250.96,380.97 L251.48,381.12 L252.00,381.28 L252.52,381.43 L253.05,381.58 L253.57,381.73 L254.09,381.88 L254.61,382.02 L255.14,382.17 L255.66,382.32 L256.18,382.46 L256.70,382.60 L257.23,382.74 L257.75,382.88 L258.27,383.02 L258.79,383.16 L259.32,383.30 L259.84,383.43 L260.36,383.56 L260.88,383.70 L261.41,383.83 L261.93,383.95 L262.45,384.08 L262.97,384.21 L263.50,384.33 L264.02,384.46 L264.54,384.58 L265.06,384.70 L265.59,384.82 L266.11,384.93 L266.63,385.05 L267.15,385.16 L267.68,385.28 L268.20,385.39 L268.72,385.50 L269.24,385.60 L269.77,385.71 L270.29,385.81 L270.81,385.92 L271.33,386.02 L271.86,386.12 L272.38,386.21 L272.90,386.31 L273.42,386.40 L273.95,386.50 L274.47,386.59 L274.99,386.68 L275.51,386.77 L276.04,386.85 L276.56,386.94 L277.08,387.02 L277.60,387.10 L278.13,387.18 L278.65,387.26 L279.17,387.33 L279.69,387.40 L280.22,387.48 L280.74,387.55 L281.26,387.62 L281.78,387.68 L282.31,387.75 L282.83,387.81 L283.35,387.88 L283.87,387.94 L284.40,388.00 L284.92,388.06 L285.44,388.11 L285.96,388.17 L286.49,388.22 L287.01,388.27 L287.53,388.32 L288.05,388.37 L288.58,388.42 L289.10,388.46 L289.62,388.51 L290.14,388.55 L290.67,388.59 L291.19,388.63 L291.71,388.67 L292.23,388.71 L292.76,388.74 L293.28,388.78 L293.80,388.81 L294.32,388.85 L294.85,388.88 L295.37,388.91 L295.89,388.94 L296.41,388.96 L296.94,388.99 L297.46,389.02 L297.98,389.04 L298.50,389.06 L299.03,389.09 L299.55,389.11 L300.07,389.13 L300.59,389.15 L301.12,389.17 L301.64,389.19 L302.16,389.20 L302.68,389.22 L303.21,389.24 L303.73,389.25 L304.25,389.26 L304.77,389.28 L305.30,389.29 L305.82,389.30 L306.34,389.31 L306.86,389.33 L307.39,389.34 L307.91,389.35 L308.43,389.35 L308.95,389.36 L309.48,389.37 L310.00,389.38 L310.52,389.39 L311.04,389.39 L311.57,389.40 L312.09,389.41 L312.61,389.41 L313.13,389.42 L313.66,389.42 L314.18,389.43 L314.70,389.43 L315.22,389.43 L315.75,389.44 L316.27,389.44 L316.79,389.44 L317.31,389.45 L317.84,389.45 L318.36,389.45 L318.88,389.45 L319.40,389.46 L319.93,389.46 L320.45,389.46 L320.97,389.46 L321.49,389.46 L322.02,389.47 L322.54,389.47 L323.06,389.47 L323.58,389.47 L324.11,389.47 L324.63,389.47 L325.15,389.47 L325.67,389.47 L326.20,389.47 L326.72,389.47 L327.24,389.47 L327.76,389.47 L328.29,389.48 L328.81,389.48 L329.33,389.48 L329.85,389.48 L330.38,389.48 L330.90,389.48 L331.42,389.48 L331.94,389.48 L332.47,389.48 L332.99,389.48 L333.51,389.48 L334.03,389.48 L334.56,389.48 L335.08,389.48 L335.60,389.48 L336.12,389.48 L336.65,389.48 L337.17,389.48 L337.69,389.48 L338.21,389.48 L338.74,389.48 L339.26,389.48 L339.78,389.48 L340.30,389.48 L340.83,389.48 L341.35,389.48 L341.87,389.48 L342.39,389.48 L342.92,389.48 L343.44,389.48 L343.96,389.48 L344.48,389.48 L345.01,389.48 L345.53,389.48 L346.05,389.48 L346.57,389.48 L347.10,389.48 L347.62,389.48 L348.14,389.48 L348.66,389.48 L349.19,389.48 L349.71,389.48 L350.23,389.48 L350.75,389.48 L351.28,389.48 L351.80,389.48 L352.32,389.48 L352.84,389.48 L353.37,389.48 L353.89,389.48 L354.41,389.48 L354.93,389.48 L355.46,389.48 L355.98,389.48 L356.50,389.48 L357.02,389.48 L357.55,389.48 L358.07,389.48 L358.59,389.48 L359.11,389.48 L359.64,389.48 L360.16,389.48 L360.68,389.48 L361.20,389.48 L361.73,389.48 L362.25,389.48 L362.77,389.48 L363.29,389.48 L363.82,389.48 L364.34,389.48 L364.86,389.48 L365.38,389.48 L365.91,389.48 L366.43,389.48" stroke="#ff8000"/>
<path d="M210.20,367.17 L210.72,367.37 L211.25,367.57 L211.77,367.77 L212.29,367.97 L212.81,368.16 L213.34,368.36 L213.86,368.56 L214.38,368.76 L214.90,368.96 L215.43,369.16 L215.95,369.36 L216.47,369.56 L216.99,369.76 L217.52,369.96 L218.04,370.15 L218.56,370.35 L219.08,370.55 L219.61,370.75 L220.13,370.95 L220.65,371.15 L221.17,371.35 L221.70,371.55 L222.22,371.75 L222.74,371.95 L223.26,372.15 L223.79,372.35 L224.31,372.55 L224.83,372.75 L225.35,372.94 L225.88,373.14 L226.40,373.34 L226.92,373.54 L227.44,373.74 L227.97,373.94 L228.49,374.14 L229.01,374.34 L229.53,374.53 L230.06,374.73 L230.58,374.93 L231.10,375.13 L231.62,375.33 L232.15,375.52 L232.67,375.72 L233.19,375.92 L233.71,376.11 L234.24,376.31 L234.76,376.51 L235.28,376.70 L235.80,376.90 L236.33,377.10 L236.85,377.29 L237.37,377.49 L237.89,377.68 L238.42,377.87 L238.94,378.07 L239.46,378.26 L239.98,378.46 L240.51,378.65 L241.03,378.84 L241.55,379.03 L242.07,379.22 L242.60,379.42 L243.12,379.61 L243.64,379.80 L244.16,379.99 L244.69,380.17 L245.21,380.36 L245.73,380.55 L246.25,380.74 L246.78,380.93 L247.30,381.11 L247.82,381.30 L248.34,381.48 L248.87,381.67 L249.39,381.85 L249.91,382.03 L250.43,382.21 L250.96,382.40 L251.48,382.58 L252.00,382.76 L252.52,382.93 L253.05,383.11 L253.57,383.29 L254.09,383.47 L254.61,383.64 L255.14,383.82 L255.66,383.99 L256.18,384.16 L256.70,384.33 L257.23,384.51 L257.75,384.68 L258.27,384.84 L258.79,385.01 L259.32,385.18 L259.84,385.34 L260.36,385.51 L260.88,385.67 L261.41,385.83 L261.93,385.99 L262.45,386.15 L262.97,386.31 L263.50,386.47 L264.02,386.63 L264.54,386.78 L265.06,386.93 L265.59,387.09 L266.11,387.24 L266.63,387.39 L267.15,387.53 L267.68,387.68 L268.20,387.83 L268.72,387.97 L269.24,388.11 L269.77,388.25 L270.29,388.39 L270.81,388.53 L271.33,388.67 L271.86,388.80 L272.38,388.94 L272.90,389.07 L273.42,389.20 L273.95,389.33 L274.47,389.46 L274.99,389.58 L275.51,389.71 L276.04,389.83 L276.56,389.95 L277.08,390.07 L277.60,390.19 L278.13,390.30 L278.65,390.42 L279.17,390.53 L279.69,390.64 L280.22,390.75 L280.74,390.86 L281.26,390.97 L281.78,391.07 L282.31,391.18 L282.83,391.28 L283.35,391.38 L283.87,391.47 L284.40,391.57 L284.92,391.67 L285.44,391.76 L285.96,391.85 L286.49,391.94 L287.01,392.03 L287.53,392.11 L288.05,392.20 L288.58,392.28 L289.10,392.36 L289.62,392.44 L290.14,392.52 L290.67,392.60 L291.19,392.67 L291.71,392.75 L292.23,392.82 L292.76,392.89 L293.28,392.96 L293.80,393.03 L294.32,393.09 L294.85,393.16 L295.37,393.22 L295.89,393.28 L296.41,393.34 L296.94,393.40 L297.46,393.46 L297.98,393.51 L298.50,393.57 L299.03,393.62 L299.55,393.67 L300.07,393.72 L300.59,393.77 L301.12,393.82 L301.64,393.87 L302.16,393.91 L302.68,393.96 L303.21,394.00 L303.73,394.04 L304.25,394.08 L304.77,394.12 L305.30,394.16 L305.82,394.19 L306.34,394.23 L306.86,394.26 L307.39,394.30 L307.91,394.33 L308.43,394.36 L308.95,394.39 L309.48,394.42 L310.00,394.45 L310.52,394.48 L311.04,394.51 L311.57,394.53 L312.09,394.56 L312.61,394.58 L313.13,394.60 L313.66,394.63 L314.18,394.65 L314.70,394.67 L315.22,394.69 L315.75,394.71 L316.27,394.73 L316.79,394.75 L317.31,394.76 L317.84,394.78 L318.36,394.80 L318.88,394.81 L319.40,394.83 L319.93,394.84 L320.45,394.86 L320.97,394.87 L321.49,394.88 L322.02,394.89 L322.54,394.91 L323.06,394.92 L323.58,394.93 L324.11,394.94 L324.63,394.95 L325.15,394.96 L325.67,394.97 L326.20,394.97 L326.72,394.98 L327.24,394.99 L327.76,395.00 L328.29,395.01 L328.81,395.01 L329.33,395.02 L329.85,395.02 L330.38,395.03 L330.90,395.04 L331.42,395.04 L331.94,395.05 L332.47,395.05 L332.99,395.06 L333.51,395.06 L334.03,395.06 L334.56,395.07 L335.08,395.07 L335.60,395.08 L336.12,395.08 L336.65,395.08 L337.17,395.08 L337.69,395.09 L338.21,395.09 L338.74,395.09 L339.26,395.10 L339.78,395.10 L340.30,395.10 L340.83,395.10 L341.35,395.10 L341.87,395.11 L342.39,395.11 L342.92,395.11 L343.44,395.11 L343.96,395.11 L344.48,395.11 L345.01,395.11 L345.53,395.12 L346.05,395.12 L346.57,395.12 L347.10,395.12 L347.62,395.12 L348.14,395.12 L348.66,395.12 L349.19,395.12 L349.71,395.12 L350.23,395.12 L350.75,395.12 L351.28,395.12 L351.80,395.12 L352.32,395.12 L352.84,395.13 L353.37,395.13 L353.89,395.13 L354.41,395.13 L354.93,395.13 L355.46,395.13 L355.98,395.13 L356.50,395.13 L357.02,395.13 L357.55,395.13 L358.07,395.13 L358.59,395.13 L359.11,395.13 L359.64,395.13 L360.16,395.13 L360.68,395.13 L361.20,395.13 L361.73,395.13 L362.25,395.13 L362.77,395.13 L363.29,395.13 L363.82,395.13 L364.34,395.13 L364.86,395.13 L365.38,395.13 L365.91,395.13 L366.43,395.13" stroke="#ff00ff"/>
<path d="M210.20,367.62 L210.76,367.84 L211.32,368.05 L211.88,368.27 L212.43,368.48 L212.99,368.70 L213.55,368.91 L214.11,369.13 L214.67,369.34 L215.22,369.56 L215.78,369.78 L216.34,369.99 L216.90,370.21 L217.45,370.43 L218.01,370.65 L218.57,370.86 L219.13,371.08 L219.69,371.30 L220.24,371.52 L220.80,371.74 L221.36,371.96 L221.92,372.18 L222.48,372.40 L223.03,372.62 L223.59,372.84 L224.15,373.06 L224.71,373.28 L225.26,373.50 L225.82,373.72 L226.38,373.94 L226.94,374.16 L227.50,374.38 L228.05,374.60 L228.61,374.82 L229.17,375.04 L229.73,375.27 L230.29,375.49 L230.84,375.71 L231.40,375.93 L231.96,376.15 L232.52,376.37 L233.07,376.60 L233.63,376.82 L234.19,377.04 L234.75,377.26 L235.31,377.48 L235.86,377.71 L236.42,377.93 L236.98,378.15 L237.54,378.37 L238.10,378.59 L238.65,378.81 L239.21,379.04 L239.77,379.26 L240.33,379.48 L240.88,379.70 L241.44,379.92 L242.00,380.14 L242.56,380.36 L243.12,380.58 L243.67,380.80 L244.23,381.02 L244.79,381.24 L245.35,381.46 L245.91,381.68 L246.46,381.90 L247.02,382.12 L247.58,382.34 L248.14,382.56 L248.70,382.77 L249.25,382.99 L249.81,383.21 L250.37,383.42 L250.93,383.64 L251.48,383.86 L252.04,384.07 L252.60,384.28 L253.16,384.50 L253.72,384.71 L254.27,384.93 L254.83,385.14 L255.39,385.35 L255.95,385.56 L256.51,385.77 L257.06,385.98 L257.62,386.19 L258.18,386.40 L258.74,386.61 L259.29,386.81 L259.85,387.02 L260.41,387.22 L260.97,387.43 L261.53,387.63 L262.08,387.83 L262.64,388.04 L263.20,388.24 L263.76,388.44 L264.32,388.64 L264.87,388.83 L265.43,389.03 L265.99,389.23 L266.55,389.42 L267.10,389.62 L267.66,389.81 L268.22,390.00 L268.78,390.19 L269.34,390.38 L269.89,390.57 L270.45,390.75 L271.01,390.94 L271.57,391.12 L272.13,391.31 L272.68,391.49 L273.24,391.67 L273.80,391.85 L274.36,392.03 L274.91,392.20 L275.47,392.38 L276.03,392.55 L276.59,392.72 L277.15,392.89 L277.70,393.06 L278.26,393.23 L278.82,393.40 L279.38,393.56 L279.94,393.72 L280.49,393.89 L281.05,394.05 L281.61,394.20 L282.17,394.36 L282.72,394.51 L283.28,394.67 L283.84,394.82 L284.40,394.96 L284.96,395.10 L285.51,395.24 L286.07,395.38 L286.63,395.51 L287.19,395.64 L287.75,395.77 L288.30,395.90 L288.86,396.02 L289.42,396.14 L289.98,396.26 L290.53,396.38 L291.09,396.49 L291.65,396.60 L292.21,396.71 L292.77,396.82 L293.32,396.93 L293.88,397.04 L294.44,397.14 L295.00,397.24 L295.56,397.34 L296.11,397.44 L296.67,397.54 L297.23,397.64 L297.79,397.74 L298.35,397.83 L298.90,397.93 L299.46,398.02 L300.02,398.11 L300.58,398.20 L301.13,398.28 L301.69,398.37 L302.25,398.45 L302.81,398.53 L303.37,398.61 L303.92,398.69 L304.48,398.76 L305.04,398.83 L305.60,398.91 L306.16,398.98 L306.71,399.05 L307.27,399.12 L307.83,399.19 L308.39,399.25 L308.94,399.32 L309.50,399.38 L310.06,399.45 L310.62,399.51 L311.18,399.57 L311.73,399.63 L312.29,399.70 L312.85,399.76 L313.41,399.82 L313.97,399.88 L314.52,399.94 L315.08,399.99 L315.64,400.05 L316.20,400.11 L316.75,400.16 L317.31,400.22 L317.87,400.27 L318.43,400.33 L318.99,400.38 L319.54,400.43 L320.10,400.48 L320.66,400.53 L321.22,400.58 L321.78,400.63 L322.33,400.68 L322.89,400.73 L323.45,400.77 L324.01,400.82 L324.56,400.86 L325.12,400.91 L325.68,400.95 L326.24,400.99 L326.80,401.03 L327.35,401.07 L327.91,401.11 L328.47,401.15 L329.03,401.19 L329.59,401.23 L330.14,401.26 L330.70,401.30 L331.26,401.33 L331.82,401.36 L332.37,401.40 L332.93,401.43 L333.49,401.46 L334.05,401.49 L334.61,401.52 L335.16,401.55 L335.72,401.57 L336.28,401.60 L336.84,401.63 L337.40,401.66 L337.95,401.68 L338.51,401.71 L339.07,401.74 L339.63,401.77 L340.18,401.79 L340.74,401.82 L341.30,401.84 L341.86,401.87 L342.42,401.89 L342.97,401.92 L343.53,401.94 L344.09,401.96 L344.65,401.99 L345.21,402.01 L345.76,402.03 L346.32,402.05 L346.88,402.07 L347.44,402.09 L348.00,402.11 L348.55,402.13 L349.11,402.14 L349.67,402.16 L350.23,402.18 L350.78,402.19 L351.34,402.21 L351.90,402.22 L352.46,402.23 L353.02,402.24 L353.57,402.25 L354.13,402.26 L354.69,402.27 L355.25,402.28 L355.81,402.28 L356.36,402.29 L356.92,402.29 L357.48,402.30 L358.04,402.30 L358.59,402.31 L359.15,402.31 L359.71,402.31 L360.27,402.32 L360.83,402.32 L361.38,402.33 L361.94,402.33 L362.50,402.33 L363.06,402.34 L363.62,402.34 L364.17,402.34 L364.73,402.34 L365.29,402.35 L365.85,402.35 L366.40,402.35 L366.96,402.35 L367.52,402.36 L368.08,402.36 L368.64,402.36 L369.19,402.36 L369.75,402.36 L370.31,402.37 L370.87,402.37 L371.43,402.37 L371.98,402.37 L372.54,402.37 L373.10,402.37 L373.66,402.37 L374.21,402.38 L374.77,402.38 L375.33,402.38 L375.89,402.38 L376.45,402.38 L377.00,402.38" stroke="#800000"/>
<path d="M210.20,368.20 L210.76,368.44 L211.32,368.68 L211.88,368.92 L212.43,369.16 L212.99,369.41 L213.55,369.65 L214.11,369.89 L214.67,370.13 L215.22,370.38 L215.78,370.62 L216.34,370.87 L216.90,371.11 L217.45,371.36 L218.01,371.60 L218.57,371.85 L219.13,372.09 L219.69,372.34 L220.24,372.59 L220.80,372.83 L221.36,373.08 L221.92,373.33 L222.48,373.57 L223.03,373.82 L223.59,374.07 L224.15,374.32 L224.71,374.57 L225.26,374.82 L225.82,375.07 L226.38,375.32 L226.94,375.57 L227.50,375.82 L228.05,376.07 L228.61,376.32 L229.17,376.57 L229.73,376.82 L230.29,377.07 L230.84,377.33 L231.40,377.58 L231.96,377.83 L232.52,378.08 L233.07,378.34 L233.63,378.59 L234.19,378.84 L234.75,379.10 L235.31,379.35 L235.86,379.60 L236.42,379.86 L236.98,380.11 L237.54,380.36 L238.10,380.62 L238.65,380.87 L239.21,381.13 L239.77,381.38 L240.33,381.64 L240.88,381.89 L241.44,382.15 L242.00,382.40 L242.56,382.66 L243.12,382.92 L243.67,383.17 L244.23,383.43 L244.79,383.68 L245.35,383.94 L245.91,384.19 L246.46,384.45 L247.02,384.70 L247.58,384.96 L248.14,385.22 L248.70,385.47 L249.25,385.73 L249.81,385.98 L250.37,386.24 L250.93,386.49 L251.48,386.75 L252.04,387.01 L252.60,387.26 L253.16,387.52 L253.72,387.77 L254.27,388.03 L254.83,388.28 L255.39,388.54 L255.95,388.79 L256.51,389.04 L257.06,389.30 L257.62,389.55 L258.18,389.81 L258.74,390.06 L259.29,390.31 L259.85,390.56 L260.41,390.82 L260.97,391.07 L261.53,391.32 L262.08,391.57 L262.64,391.82 L263.20,392.08 L263.76,392.33 L264.32,392.58 L264.87,392.83 L265.43,393.07 L265.99,393.32 L266.55,393.57 L267.10,393.82 L267.66,394.07 L268.22,394.31 L268.78,394.56 L269.34,394.81 L269.89,395.05 L270.45,395.29 L271.01,395.54 L271.57,395.78 L272.13,396.02 L272.68,396.27 L273.24,396.51 L273.80,396.75 L274.36,396.99 L274.91,397.23 L275.47,397.46 L276.03,397.70 L276.59,397.94 L277.15,398.17 L277.70,398.41 L278.26,398.64 L278.82,398.88 L279.38,399.11 L279.94,399.34 L280.49,399.57 L281.05,399.80 L281.61,400.03 L282.17,400.26 L282.72,400.48 L283.28,400.71 L283.84,400.92 L284.40,401.14 L284.96,401.36 L285.51,401.57 L286.07,401.77 L286.63,401.98 L287.19,402.18 L287.75,402.38 L288.30,402.58 L288.86,402.78 L289.42,402.97 L289.98,403.16 L290.53,403.35 L291.09,403.54 L291.65,403.72 L292.21,403.90 L292.77,404.09 L293.32,404.27 L293.88,404.45 L294.44,404.62 L295.00,404.80 L295.56,404.98 L296.11,405.15 L296.67,405.32 L297.23,405.50 L297.79,405.67 L298.35,405.84 L298.90,406.01 L299.46,406.18 L300.02,406.34 L300.58,406.50 L301.13,406.66 L301.69,406.82 L302.25,406.97 L302.81,407.12 L303.37,407.27 L303.92,407.42 L304.48,407.57 L305.04,407.71 L305.60,407.86 L306.16,408.00 L306.71,408.14 L307.27,408.28 L307.83,408.42 L308.39,408.56 L308.94,408.69 L309.50,408.83 L310.06,408.97 L310.62,409.10 L311.18,409.24 L311.73,409.37 L312.29,409.51 L312.85,409.64 L313.41,409.78 L313.97,409.91 L314.52,410.05 L315.08,410.19 L315.64,410.32 L316.20,410.46 L316.75,410.59 L317.31,410.73 L317.87,410.86 L318.43,411.00 L318.99,411.13 L319.54,411.26 L320.10,411.39 L320.66,411.52 L321.22,411.65 L321.78,411.78 L322.33,411.91 L322.89,412.03 L323.45,412.16 L324.01,412.28 L324.56,412.40 L325.12,412.52 L325.68,412.64 L326.24,412.76 L326.80,412.88 L327.35,413.00 L327.91,413.11 L328.47,413.22 L329.03,413.34 L329.59,413.45 L330.14,413.55 L330.70,413.66 L331.26,413.77 L331.82,413.87 L332.37,413.97 L332.93,414.07 L333.49,414.17 L334.05,414.26 L334.61,414.36 L335.16,414.45 L335.72,414.54 L336.28,414.63 L336.84,414.72 L337.40,414.81 L337.95,414.90 L338.51,414.98 L339.07,415.07 L339.63,415.15 L340.18,415.24 L340.74,415.32 L341.30,415.40 L341.86,415.48 L342.42,415.56 L342.97,415.64 L343.53,415.71 L344.09,415.79 L344.65,415.87 L345.21,415.94 L345.76,416.01 L346.32,416.08 L346.88,416.15 L347.44,416.22 L348.00,416.29 L348.55,416.36 L349.11,416.42 L349.67,416.49 L350.23,416.55 L350.78,416.61 L351.34,416.67 L351.90,416.73 L352.46,416.79 L353.02,416.85 L353.57,416.90 L354.13,416.96 L354.69,417.01 L355.25,417.07 L355.81,417.12 L356.36,417.17 L356.92,417.21 L357.48,417.26 L358.04,417.31 L358.59,417.36 L359.15,417.40 L359.71,417.45 L360.27,417.49 L360.83,417.53 L361.38,417.58 L361.94,417.62 L362.50,417.66 L363.06,417.70 L363.62,417.74 L364.17,417.78 L364.73,417.81 L365.29,417.85 L365.85,417.89 L366.40,417.92 L366.96,417.96 L367.52,417.99 L368.08,418.03 L368.64,418.06 L369.19,418.09 L369.75,418.12 L370.31,418.16 L370.87,418.19 L371.43,418.22 L371.98,418.25 L372.54,418.28 L373.10,418.30 L373.66,418.33 L374.21,418.36 L374.77,418.39 L375.33,418.41 L375.89,418.44 L376.45,418.46 L377.00,418.49" stroke="#008000"/>
<g fill="#fff" stroke="#0000ff" stroke-width="1.0">
<circle cx="209.68" cy="369.27" r="2.25"/>
<circle cx="213.90" cy="370.98" r="2.25"/>
<circle cx="218.12" cy="373.01" r="2.25"/>
<circle cx="222.33" cy="375.11" r="2.25"/>
<circle cx="226.55" cy="377.28" r="2.25"/>
<circle cx="230.77" cy="379.50" r="2.25"/>
<circle cx="234.99" cy="381.75" r="2.25"/>
<circle cx="239.21" cy="384.03" r="2.25"/>
<circle cx="243.43" cy="386.32" r="2.25"/>
<circle cx="247.64" cy="388.62" r="2.25"/>
<circle cx="251.86" cy="390.91" r="2.25"/>
<circle cx="256.08" cy="393.19" r="2.25"/>
<circle cx="260.30" cy="395.44" r="2.25"/>
<circle cx="264.52" cy="397.67" r="2.25"/>
<circle cx="268.74" cy="399.86" r="2.25"/>
<circle cx="272.95" cy="402.00" r="2.25"/>
<circle cx="277.17" cy="404.10" r="2.25"/>
<circle cx="281.39" cy="406.14" r="2.25"/>
<circle cx="285.61" cy="408.12" r="2.25"/>
<circle cx="289.83" cy="410.04" r="2.25"/>
<circle cx="294.05" cy="411.89" r="2.25"/>
<circle cx="298.26" cy="413.67" r="2.25"/>
<circle cx="302.48" cy="415.38" r="2.25"/>
<circle cx="306.70" cy="417.02" r="2.25"/>
<circle cx="310.92" cy="418.59" r="2.25"/>
<circle cx="315.14" cy="420.08" r="2.25"/>
<circle cx="319.36" cy="421.50" r="2.25"/>
<circle cx="323.57" cy="422.84" r="2.25"/>
<circle cx="327.79" cy="424.12" r="2.25"/>
<circle cx="332.01" cy="425.32" r="2.25"/>
<circle cx="336.23" cy="426.46" r="2.25"/>
<circle cx="340.45" cy="427.54" r="2.25"/>
<circle cx="344.67" cy="428.56" r="2.25"/>
<circle cx="348.88" cy="429.53" r="2.25"/>
<circle cx="353.10" cy="430.45" r="2.25"/>
<circle cx="357.32" cy="431.33" r="2.25"/>
<circle cx="361.54" cy="432.17" r="2.25"/>
<circle cx="365.76" cy="432.98" r="2.25"/>
<circle cx="369.98" cy="433.78" r="2.25"/>
<circle cx="374.19" cy="434.56" r="2.25"/>
</g>
<path d="M210.20,370.30 L210.76,370.58 L211.32,370.87 L211.88,371.17 L212.43,371.46 L212.99,371.75 L213.55,372.05 L214.11,372.35 L214.67,372.65 L215.22,372.95 L215.78,373.25 L216.34,373.56 L216.90,373.87 L217.45,374.17 L218.01,374.48 L218.57,374.79 L219.13,375.10 L219.69,375.42 L220.24,375.73 L220.80,376.05 L221.36,376.36 L221.92,376.68 L222.48,377.00 L223.03,377.32 L223.59,377.64 L224.15,377.96 L224.71,378.29 L225.26,378.61 L225.82,378.94 L226.38,379.26 L226.94,379.59 L227.50,379.92 L228.05,380.25 L228.61,380.58 L229.17,380.91 L229.73,381.24 L230.29,381.57 L230.84,381.90 L231.40,382.23 L231.96,382.57 L232.52,382.90 L233.07,383.24 L233.63,383.57 L234.19,383.91 L234.75,384.25 L235.31,384.58 L235.86,384.92 L236.42,385.26 L236.98,385.60 L237.54,385.94 L238.10,386.27 L238.65,386.61 L239.21,386.95 L239.77,387.29 L240.33,387.63 L240.88,387.97 L241.44,388.31 L242.00,388.65 L242.56,389.00 L243.12,389.34 L243.67,389.68 L244.23,390.02 L244.79,390.36 L245.35,390.70 L245.91,391.04 L246.46,391.38 L247.02,391.72 L247.58,392.07 L248.14,392.41 L248.70,392.75 L249.25,393.09 L249.81,393.43 L250.37,393.77 L250.93,394.11 L251.48,394.45 L252.04,394.79 L252.60,395.13 L253.16,395.47 L253.72,395.81 L254.27,396.14 L254.83,396.48 L255.39,396.82 L255.95,397.16 L256.51,397.49 L257.06,397.83 L257.62,398.17 L258.18,398.50 L258.74,398.84 L259.29,399.17 L259.85,399.51 L260.41,399.84 L260.97,400.17 L261.53,400.50 L262.08,400.84 L262.64,401.17 L263.20,401.50 L263.76,401.83 L264.32,402.15 L264.87,402.48 L265.43,402.81 L265.99,403.14 L266.55,403.46 L267.10,403.79 L267.66,404.11 L268.22,404.44 L268.78,404.76 L269.34,405.08 L269.89,405.40 L270.45,405.72 L271.01,406.04 L271.57,406.36 L272.13,406.68 L272.68,407.00 L273.24,407.31 L273.80,407.63 L274.36,407.94 L274.91,408.26 L275.47,408.57 L276.03,408.88 L276.59,409.19 L277.15,409.50 L277.70,409.81 L278.26,410.11 L278.82,410.42 L279.38,410.72 L279.94,411.03 L280.49,411.33 L281.05,411.63 L281.61,411.93 L282.17,412.23 L282.72,412.53 L283.28,412.82 L283.84,413.12 L284.40,413.41 L284.96,413.71 L285.51,414.00 L286.07,414.29 L286.63,414.58 L287.19,414.87 L287.75,415.16 L288.30,415.44 L288.86,415.73 L289.42,416.01 L289.98,416.29 L290.53,416.57 L291.09,416.85 L291.65,417.13 L292.21,417.41 L292.77,417.68 L293.32,417.96 L293.88,418.23 L294.44,418.50 L295.00,418.77 L295.56,419.04 L296.11,419.31 L296.67,419.57 L297.23,419.84 L297.79,420.10 L298.35,420.36 L298.90,420.62 L299.46,420.88 L300.02,421.14 L300.58,421.40 L301.13,421.65 L301.69,421.91 L302.25,422.16 L302.81,422.41 L303.37,422.66 L303.92,422.90 L304.48,423.15 L305.04,423.40 L305.60,423.64 L306.16,423.88 L306.71,424.12 L307.27,424.36 L307.83,424.60 L308.39,424.83 L308.94,425.07 L309.50,425.30 L310.06,425.53 L310.62,425.76 L311.18,425.99 L311.73,426.22 L312.29,426.44 L312.85,426.67 L313.41,426.89 L313.97,427.11 L314.52,427.33 L315.08,427.55 L315.64,427.77 L316.20,427.98 L316.75,428.19 L317.31,428.41 L317.87,428.62 L318.43,428.83 L318.99,429.03 L319.54,429.24 L320.10,429.44 L320.66,429.65 L321.22,429.85 L321.78,430.05 L322.33,430.25 L322.89,430.45 L323.45,430.64 L324.01,430.84 L324.56,431.03 L325.12,431.22 L325.68,431.41 L326.24,431.60 L326.80,431.78 L327.35,431.97 L327.91,432.15 L328.47,432.34 L329.03,432.52 L329.59,432.70 L330.14,432.87 L330.70,433.05 L331.26,433.23 L331.82,433.40 L332.37,433.57 L332.93,433.74 L333.49,433.91 L334.05,434.08 L334.61,434.25 L335.16,434.41 L335.72,434.58 L336.28,434.74 L336.84,434.90 L337.40,435.06 L337.95,435.22 L338.51,435.38 L339.07,435.53 L339.63,435.69 L340.18,435.84 L340.74,435.99 L341.30,436.14 L341.86,436.29 L342.42,436.44 L342.97,436.59 L343.53,436.73 L344.09,436.88 L344.65,437.02 L345.21,437.16 L345.76,437.30 L346.32,437.44 L346.88,437.58 L347.44,437.71 L348.00,437.85 L348.55,437.98 L349.11,438.12 L349.67,438.25 L350.23,438.38 L350.78,438.51 L351.34,438.64 L351.90,438.77 L352.46,438.89 L353.02,439.02 L353.57,439.14 L354.13,439.26 L354.69,439.39 L355.25,439.51 L355.81,439.63 L356.36,439.74 L356.92,439.86 L357.48,439.98 L358.04,440.09 L358.59,440.21 L359.15,440.32 L359.71,440.44 L360.27,440.55 L360.83,440.66 L361.38,440.77 L361.94,440.88 L362.50,440.99 L363.06,441.09 L363.62,441.20 L364.17,441.31 L364.73,441.41 L365.29,441.51 L365.85,441.62 L366.40,441.72 L366.96,441.82 L367.52,441.92 L368.08,442.02 L368.64,442.12 L369.19,442.22 L369.75,442.32 L370.31,442.42 L370.87,442.52 L371.43,442.61 L371.98,442.71 L372.54,442.80 L373.10,442.90 L373.66,442.99 L374.21,443.09 L374.77,443.18 L375.33,443.27 L375.89,443.36 L376.45,443.46 L377.00,443.55" stroke="#8000ff"/>
<path d="M210.20,373.77 L210.76,374.14 L211.32,374.50 L211.88,374.87 L212.43,375.24 L212.99,375.61 L213.55,375.98 L214.11,376.35 L214.67,376.73 L215.22,377.11 L215.78,377.48 L216.34,377.86 L216.90,378.24 L217.45,378.63 L218.01,379.01 L218.57,379.39 L219.13,379.78 L219.69,380.17 L220.24,380.55 L220.80,380.94 L221.36,381.33 L221.92,381.72 L222.48,382.12 L223.03,382.51 L223.59,382.90 L224.15,383.30 L224.71,383.69 L225.26,384.09 L225.82,384.48 L226.38,384.88 L226.94,385.28 L227.50,385.67 L228.05,386.07 L228.61,386.47 L229.17,386.87 L229.73,387.27 L230.29,387.67 L230.84,388.07 L231.40,388.47 L231.96,388.87 L232.52,389.27 L233.07,389.68 L233.63,390.08 L234.19,390.48 L234.75,390.88 L235.31,391.28 L235.86,391.69 L236.42,392.09 L236.98,392.49 L237.54,392.89 L238.10,393.29 L238.65,393.69 L239.21,394.10 L239.77,394.50 L240.33,394.90 L240.88,395.30 L241.44,395.70 L242.00,396.10 L242.56,396.50 L243.12,396.90 L243.67,397.30 L244.23,397.69 L244.79,398.09 L245.35,398.49 L245.91,398.89 L246.46,399.28 L247.02,399.68 L247.58,400.07 L248.14,400.47 L248.70,400.86 L249.25,401.26 L249.81,401.65 L250.37,402.04 L250.93,402.43 L251.48,402.82 L252.04,403.21 L252.60,403.60 L253.16,403.99 L253.72,404.37 L254.27,404.76 L254.83,405.15 L255.39,405.53 L255.95,405.91 L256.51,406.29 L257.06,406.68 L257.62,407.06 L258.18,407.43 L258.74,407.81 L259.29,408.19 L259.85,408.56 L260.41,408.94 L260.97,409.31 L261.53,409.68 L262.08,410.06 L262.64,410.43 L263.20,410.79 L263.76,411.16 L264.32,411.53 L264.87,411.89 L265.43,412.25 L265.99,412.62 L266.55,412.98 L267.10,413.34 L267.66,413.70 L268.22,414.05 L268.78,414.41 L269.34,414.76 L269.89,415.11 L270.45,415.46 L271.01,415.81 L271.57,416.16 L272.13,416.51 L272.68,416.85 L273.24,417.20 L273.80,417.54 L274.36,417.88 L274.91,418.22 L275.47,418.55 L276.03,418.89 L276.59,419.22 L277.15,419.56 L277.70,419.89 L278.26,420.22 L278.82,420.54 L279.38,420.87 L279.94,421.19 L280.49,421.52 L281.05,421.84 L281.61,422.16 L282.17,422.48 L282.72,422.79 L283.28,423.11 L283.84,423.42 L284.40,423.73 L284.96,424.04 L285.51,424.35 L286.07,424.65 L286.63,424.95 L287.19,425.26 L287.75,425.56 L288.30,425.86 L288.86,426.15 L289.42,426.45 L289.98,426.74 L290.53,427.03 L291.09,427.32 L291.65,427.61 L292.21,427.90 L292.77,428.18 L293.32,428.46 L293.88,428.75 L294.44,429.03 L295.00,429.30 L295.56,429.58 L296.11,429.85 L296.67,430.12 L297.23,430.39 L297.79,430.66 L298.35,430.93 L298.90,431.19 L299.46,431.46 L300.02,431.72 L300.58,431.98 L301.13,432.24 L301.69,432.49 L302.25,432.75 L302.81,433.00 L303.37,433.25 L303.92,433.50 L304.48,433.75 L305.04,433.99 L305.60,434.23 L306.16,434.48 L306.71,434.72 L307.27,434.95 L307.83,435.19 L308.39,435.43 L308.94,435.66 L309.50,435.89 L310.06,436.12 L310.62,436.35 L311.18,436.58 L311.73,436.80 L312.29,437.02 L312.85,437.24 L313.41,437.46 L313.97,437.68 L314.52,437.90 L315.08,438.11 L315.64,438.33 L316.20,438.54 L316.75,438.75 L317.31,438.96 L317.87,439.16 L318.43,439.37 L318.99,439.57 L319.54,439.78 L320.10,439.98 L320.66,440.18 L321.22,440.37 L321.78,440.57 L322.33,440.76 L322.89,440.96 L323.45,441.15 L324.01,441.34 L324.56,441.53 L325.12,441.72 L325.68,441.90 L326.24,442.09 L326.80,442.27 L327.35,442.45 L327.91,442.63 L328.47,442.81 L329.03,442.99 L329.59,443.17 L330.14,443.34 L330.70,443.52 L331.26,443.69 L331.82,443.86 L332.37,444.04 L332.93,444.21 L333.49,444.37 L334.05,444.54 L334.61,444.71 L335.16,444.87 L335.72,445.04 L336.28,445.20 L336.84,445.36 L337.40,445.52 L337.95,445.68 L338.51,445.84 L339.07,446.00 L339.63,446.16 L340.18,446.32 L340.74,446.47 L341.30,446.63 L341.86,446.78 L342.42,446.93 L342.97,447.09 L343.53,447.24 L344.09,447.39 L344.65,447.54 L345.21,447.69 L345.76,447.84 L346.32,447.99 L346.88,448.14 L347.44,448.28 L348.00,448.43 L348.55,448.58 L349.11,448.72 L349.67,448.87 L350.23,449.01 L350.78,449.16 L351.34,449.30 L351.90,449.45 L352.46,449.59 L353.02,449.74 L353.57,449.88 L354.13,450.02 L354.69,450.16 L355.25,450.31 L355.81,450.45 L356.36,450.59 L356.92,450.74 L357.48,450.88 L358.04,451.02 L358.59,451.16 L359.15,451.31 L359.71,451.45 L360.27,451.59 L360.83,451.74 L361.38,451.88 L361.94,452.02 L362.50,452.17 L363.06,452.31 L363.62,452.46 L364.17,452.60 L364.73,452.75 L365.29,452.90 L365.85,453.04 L366.40,453.19 L366.96,453.34 L367.52,453.49 L368.08,453.64 L368.64,453.79 L369.19,453.94 L369.75,454.09 L370.31,454.24 L370.87,454.39 L371.43,454.55 L371.98,454.70 L372.54,454.86 L373.10,455.02 L373.66,455.17 L374.21,455.33 L374.77,455.49 L375.33,455.66 L375.89,455.82 L376.45,455.98 L377.00,456.15" stroke="#008080"/>
<path d="M210.20,380.12 L210.76,380.55 L211.32,380.98 L211.88,381.41 L212.43,381.84 L212.99,382.27 L213.55,382.70 L214.11,383.13 L214.67,383.56 L215.22,384.00 L215.78,384.43 L216.34,384.86 L216.90,385.29 L217.45,385.72 L218.01,386.15 L218.57,386.58 L219.13,387.01 L219.69,387.44 L220.24,387.87 L220.80,388.30 L221.36,388.73 L221.92,389.16 L222.48,389.59 L223.03,390.02 L223.59,390.45 L224.15,390.88 L224.71,391.30 L225.26,391.73 L225.82,392.16 L226.38,392.59 L226.94,393.01 L227.50,393.44 L228.05,393.87 L228.61,394.29 L229.17,394.72 L229.73,395.14 L230.29,395.57 L230.84,395.99 L231.40,396.41 L231.96,396.84 L232.52,397.26 L233.07,397.68 L233.63,398.10 L234.19,398.52 L234.75,398.94 L235.31,399.36 L235.86,399.78 L236.42,400.20 L236.98,400.61 L237.54,401.03 L238.10,401.45 L238.65,401.86 L239.21,402.28 L239.77,402.69 L240.33,403.10 L240.88,403.51 L241.44,403.92 L242.00,404.33 L242.56,404.74 L243.12,405.15 L243.67,405.56 L244.23,405.97 L244.79,406.37 L245.35,406.78 L245.91,407.18 L246.46,407.59 L247.02,407.99 L247.58,408.39 L248.14,408.79 L248.70,409.19 L249.25,409.59 L249.81,409.98 L250.37,410.38 L250.93,410.78 L251.48,411.17 L252.04,411.56 L252.60,411.96 L253.16,412.35 L253.72,412.74 L254.27,413.12 L254.83,413.51 L255.39,413.90 L255.95,414.28 L256.51,414.67 L257.06,415.05 L257.62,415.43 L258.18,415.81 L258.74,416.19 L259.29,416.57 L259.85,416.95 L260.41,417.32 L260.97,417.70 L261.53,418.07 L262.08,418.45 L262.64,418.82 L263.20,419.19 L263.76,419.55 L264.32,419.92 L264.87,420.29 L265.43,420.65 L265.99,421.01 L266.55,421.38 L267.10,421.74 L267.66,422.10 L268.22,422.45 L268.78,422.81 L269.34,423.17 L269.89,423.52 L270.45,423.87 L271.01,424.22 L271.57,424.57 L272.13,424.92 L272.68,425.27 L273.24,425.61 L273.80,425.96 L274.36,426.30 L274.91,426.64 L275.47,426.98 L276.03,427.32 L276.59,427.66 L277.15,427.99 L277.70,428.33 L278.26,428.66 L278.82,428.99 L279.38,429.32 L279.94,429.65 L280.49,429.97 L281.05,430.30 L281.61,430.62 L282.17,430.95 L282.72,431.27 L283.28,431.59 L283.84,431.90 L284.40,432.22 L284.96,432.54 L285.51,432.85 L286.07,433.16 L286.63,433.47 L287.19,433.78 L287.75,434.09 L288.30,434.39 L288.86,434.70 L289.42,435.00 L289.98,435.30 L290.53,435.60 L291.09,435.90 L291.65,436.20 L292.21,436.49 L292.77,436.79 L293.32,437.08 L293.88,437.37 L294.44,437.66 L295.00,437.94 L295.56,438.23 L296.11,438.51 L296.67,438.80 L297.23,439.08 L297.79,439.36 L298.35,439.64 L298.90,439.91 L299.46,440.19 L300.02,440.46 L300.58,440.74 L301.13,441.01 L301.69,441.28 L302.25,441.54 L302.81,441.81 L303.37,442.07 L303.92,442.34 L304.48,442.60 L305.04,442.86 L305.60,443.12 L306.16,443.37 L306.71,443.63 L307.27,443.88 L307.83,444.14 L308.39,444.39 L308.94,444.64 L309.50,444.89 L310.06,445.13 L310.62,445.38 L311.18,445.62 L311.73,445.86 L312.29,446.10 L312.85,446.34 L313.41,446.58 L313.97,446.82 L314.52,447.05 L315.08,447.29 L315.64,447.52 L316.20,447.75 L316.75,447.98 L317.31,448.20 L317.87,448.43 L318.43,448.66 L318.99,448.88 L319.54,449.10 L320.10,449.32 L320.66,449.54 L321.22,449.76 L321.78,449.98 L322.33,450.19 L322.89,450.40 L323.45,450.62 L324.01,450.83 L324.56,451.04 L325.12,451.25 L325.68,451.45 L326.24,451.66 L326.80,451.86 L327.35,452.07 L327.91,452.27 L328.47,452.47 L329.03,452.67 L329.59,452.87 L330.14,453.06 L330.70,453.26 L331.26,453.45 L331.82,453.65 L332.37,453.84 L332.93,454.03 L333.49,454.22 L334.05,454.41 L334.61,454.59 L335.16,454.78 L335.72,454.96 L336.28,455.15 L336.84,455.33 L337.40,455.51 L337.95,455.69 L338.51,455.87 L339.07,456.05 L339.63,456.22 L340.18,456.40 L340.74,456.57 L341.30,456.75 L341.86,456.92 L342.42,457.09 L342.97,457.26 L343.53,457.43 L344.09,457.60 L344.65,457.77 L345.21,457.94 L345.76,458.10 L346.32,458.27 L346.88,458.43 L347.44,458.59 L348.00,458.76 L348.55,458.92 L349.11,459.08 L349.67,459.24 L350.23,459.39 L350.78,459.55 L351.34,459.71 L351.90,459.87 L352.46,460.02 L353.02,460.18 L353.57,460.33 L354.13,460.48 L354.69,460.64 L355.25,460.79 L355.81,460.94 L356.36,461.09 L356.92,461.24 L357.48,461.39 L358.04,461.54 L358.59,461.68 L359.15,461.83 L359.71,461.98 L360.27,462.12 L360.83,462.27 L361.38,462.42 L361.94,462.56 L362.50,462.70 L363.06,462.85 L363.62,462.99 L364.17,463.13 L364.73,463.28 L365.29,463.42 L365.85,463.56 L366.40,463.70 L366.96,463.84 L367.52,463.98 L368.08,464.12 L368.64,464.26 L369.19,464.40 L369.75,464.54 L370.31,464.68 L370.87,464.82 L371.43,464.96 L371.98,465.10 L372.54,465.24 L373.10,465.37 L373.66,465.51 L374.21,465.65 L374.77,465.79 L375.33,465.93 L375.89,466.06 L376.45,466.20 L377.00,466.34" stroke="#808000"/>
<path d="M210.20,385.73 L210.76,386.18 L211.32,386.63 L211.88,387.08 L212.43,387.53 L212.99,387.98 L213.55,388.43 L214.11,388.88 L214.67,389.33 L215.22,389.78 L215.78,390.22 L216.34,390.67 L216.90,391.11 L217.45,391.56 L218.01,392.00 L218.57,392.44 L219.13,392.89 L219.69,393.33 L220.24,393.77 L220.80,394.21 L221.36,394.65 L221.92,395.08 L222.48,395.52 L223.03,395.96 L223.59,396.39 L224.15,396.83 L224.71,397.26 L225.26,397.70 L225.82,398.13 L226.38,398.56 L226.94,398.99 L227.50,399.42 L228.05,399.85 L228.61,400.28 L229.17,400.70 L229.73,401.13 L230.29,401.55 L230.84,401.98 L231.40,402.40 L231.96,402.82 L232.52,403.25 L233.07,403.67 L233.63,404.09 L234.19,404.50 L234.75,404.92 L235.31,405.34 L235.86,405.75 L236.42,406.17 L236.98,406.58 L237.54,406.99 L238.10,407.40 L238.65,407.82 L239.21,408.22 L239.77,408.63 L240.33,409.04 L240.88,409.45 L241.44,409.85 L242.00,410.26 L242.56,410.66 L243.12,411.06 L243.67,411.46 L244.23,411.86 L244.79,412.26 L245.35,412.66 L245.91,413.05 L246.46,413.45 L247.02,413.84 L247.58,414.24 L248.14,414.63 L248.70,415.02 L249.25,415.41 L249.81,415.80 L250.37,416.18 L250.93,416.57 L251.48,416.95 L252.04,417.34 L252.60,417.72 L253.16,418.10 L253.72,418.48 L254.27,418.86 L254.83,419.24 L255.39,419.62 L255.95,419.99 L256.51,420.37 L257.06,420.74 L257.62,421.11 L258.18,421.48 L258.74,421.85 L259.29,422.22 L259.85,422.59 L260.41,422.95 L260.97,423.32 L261.53,423.68 L262.08,424.04 L262.64,424.40 L263.20,424.76 L263.76,425.12 L264.32,425.48 L264.87,425.83 L265.43,426.19 L265.99,426.54 L266.55,426.89 L267.10,427.24 L267.66,427.59 L268.22,427.94 L268.78,428.28 L269.34,428.63 L269.89,428.97 L270.45,429.32 L271.01,429.66 L271.57,430.00 L272.13,430.34 L272.68,430.67 L273.24,431.01 L273.80,431.34 L274.36,431.68 L274.91,432.01 L275.47,432.34 L276.03,432.67 L276.59,433.00 L277.15,433.33 L277.70,433.65 L278.26,433.98 L278.82,434.30 L279.38,434.62 L279.94,434.94 L280.49,435.26 L281.05,435.58 L281.61,435.89 L282.17,436.21 L282.72,436.52 L283.28,436.83 L283.84,437.14 L284.40,437.45 L284.96,437.76 L285.51,438.07 L286.07,438.37 L286.63,438.68 L287.19,438.98 L287.75,439.28 L288.30,439.58 L288.86,439.88 L289.42,440.18 L289.98,440.47 L290.53,440.77 L291.09,441.06 L291.65,441.35 L292.21,441.64 L292.77,441.93 L293.32,442.22 L293.88,442.51 L294.44,442.79 L295.00,443.08 L295.56,443.36 L296.11,443.64 L296.67,443.92 L297.23,444.20 L297.79,444.48 L298.35,444.75 L298.90,445.03 L299.46,445.30 L300.02,445.57 L300.58,445.84 L301.13,446.11 L301.69,446.38 L302.25,446.64 L302.81,446.91 L303.37,447.17 L303.92,447.43 L304.48,447.70 L305.04,447.95 L305.60,448.21 L306.16,448.47 L306.71,448.73 L307.27,448.98 L307.83,449.23 L308.39,449.48 L308.94,449.73 L309.50,449.98 L310.06,450.23 L310.62,450.48 L311.18,450.72 L311.73,450.97 L312.29,451.21 L312.85,451.45 L313.41,451.69 L313.97,451.93 L314.52,452.17 L315.08,452.40 L315.64,452.64 L316.20,452.87 L316.75,453.10 L317.31,453.33 L317.87,453.56 L318.43,453.79 L318.99,454.02 L319.54,454.24 L320.10,454.47 L320.66,454.69 L321.22,454.91 L321.78,455.13 L322.33,455.35 L322.89,455.57 L323.45,455.79 L324.01,456.00 L324.56,456.22 L325.12,456.43 L325.68,456.64 L326.24,456.85 L326.80,457.06 L327.35,457.27 L327.91,457.48 L328.47,457.69 L329.03,457.89 L329.59,458.09 L330.14,458.30 L330.70,458.50 L331.26,458.70 L331.82,458.90 L332.37,459.09 L332.93,459.29 L333.49,459.49 L334.05,459.68 L334.61,459.87 L335.16,460.06 L335.72,460.26 L336.28,460.45 L336.84,460.63 L337.40,460.82 L337.95,461.01 L338.51,461.19 L339.07,461.38 L339.63,461.56 L340.18,461.74 L340.74,461.92 L341.30,462.10 L341.86,462.28 L342.42,462.46 L342.97,462.63 L343.53,462.81 L344.09,462.98 L344.65,463.16 L345.21,463.33 L345.76,463.50 L346.32,463.67 L346.88,463.84 L347.44,464.01 L348.00,464.18 L348.55,464.34 L349.11,464.51 L349.67,464.67 L350.23,464.84 L350.78,465.00 L351.34,465.16 L351.90,465.32 L352.46,465.48 L353.02,465.64 L353.57,465.80 L354.13,465.95 L354.69,466.11 L355.25,466.26 L355.81,466.42 L356.36,466.57 L356.92,466.72 L357.48,466.87 L358.04,467.03 L358.59,467.18 L359.15,467.32 L359.71,467.47 L360.27,467.62 L360.83,467.77 L361.38,467.91 L361.94,468.06 L362.50,468.20 L363.06,468.34 L363.62,468.49 L364.17,468.63 L364.73,468.77 L365.29,468.91 L365.85,469.05 L366.40,469.19 L366.96,469.32 L367.52,469.46 L368.08,469.60 L368.64,469.73 L369.19,469.87 L369.75,470.00 L370.31,470.14 L370.87,470.27 L371.43,470.40 L371.98,470.54 L372.54,470.67 L373.10,470.80 L373.66,470.93 L374.21,471.06 L374.77,471.19 L375.33,471.32 L375.89,471.44 L376.45,471.57 L377.00,471.70" stroke="#00ffff"/>
</g>
<g stroke="#000" fill="none">
<rect x="48.75" y="360.0" width="338.45" height="218.85000000000002" stroke-width="1.5"/>
<path d="M198.7,360.0 V478.4 H387.2" stroke-width="1.5"/>
</g>
<g stroke="#000" stroke-width="1.2">
<line x1="54.48" y1="578.85" x2="54.48" y2="574.85"/>
<line x1="62.22" y1="578.85" x2="62.22" y2="574.85"/>
<line x1="69.96" y1="578.85" x2="69.96" y2="574.85"/>
<line x1="77.70" y1="578.85" x2="77.70" y2="571.25"/>
<line x1="85.44" y1="578.85" x2="85.44" y2="574.85"/>
<line x1="93.18" y1="578.85" x2="93.18" y2="574.85"/>
<line x1="100.92" y1="578.85" x2="100.92" y2="574.85"/>
<line x1="108.66" y1="578.85" x2="108.66" y2="574.85"/>
<line x1="116.40" y1="578.85" x2="116.40" y2="571.25"/>
<line x1="124.14" y1="578.85" x2="124.14" y2="574.85"/>
<line x1="131.88" y1="578.85" x2="131.88" y2="574.85"/>
<line x1="139.62" y1="578.85" x2="139.62" y2="574.85"/>
<line x1="147.36" y1="578.85" x2="147.36" y2="574.85"/>
<line x1="155.10" y1="578.85" x2="155.10" y2="571.25"/>
<line x1="162.84" y1="578.85" x2="162.84" y2="574.85"/>
<line x1="170.58" y1="578.85" x2="170.58" y2="574.85"/>
<line x1="178.32" y1="578.85" x2="178.32" y2="574.85"/>
<line x1="186.06" y1="578.85" x2="186.06" y2="574.85"/>
<line x1="193.80" y1="578.85" x2="193.80" y2="571.25"/>
<line x1="201.54" y1="578.85" x2="201.54" y2="574.85"/>
<line x1="209.28" y1="578.85" x2="209.28" y2="574.85"/>
<line x1="217.02" y1="578.85" x2="217.02" y2="574.85"/>
<line x1="224.76" y1="578.85" x2="224.76" y2="574.85"/>
<line x1="232.50" y1="578.85" x2="232.50" y2="571.25"/>
<line x1="240.24" y1="578.85" x2="240.24" y2="574.85"/>
<line x1="247.98" y1="578.85" x2="247.98" y2="574.85"/>
<line x1="255.72" y1="578.85" x2="255.72" y2="574.85"/>
<line x1="263.46" y1="578.85" x2="263.46" y2="574.85"/>
<line x1="271.20" y1="578.85" x2="271.20" y2="571.25"/>
<line x1="278.94" y1="578.85" x2="278.94" y2="574.85"/>
<line x1="286.68" y1="578.85" x2="286.68" y2="574.85"/>
<line x1="294.42" y1="578.85" x2="294.42" y2="574.85"/>
<line x1="302.16" y1="578.85" x2="302.16" y2="574.85"/>
<line x1="309.90" y1="578.85" x2="309.90" y2="571.25"/>
<line x1="317.64" y1="578.85" x2="317.64" y2="574.85"/>
<line x1="325.38" y1="578.85" x2="325.38" y2="574.85"/>
<line x1="333.12" y1="578.85" x2="333.12" y2="574.85"/>
<line x1="340.86" y1="578.85" x2="340.86" y2="574.85"/>
<line x1="348.60" y1="578.85" x2="348.60" y2="571.25"/>
<line x1="356.34" y1="578.85" x2="356.34" y2="574.85"/>
<line x1="364.08" y1="578.85" x2="364.08" y2="574.85"/>
<line x1="371.82" y1="578.85" x2="371.82" y2="574.85"/>
<line x1="379.56" y1="578.85" x2="379.56" y2="574.85"/>
<line x1="48.75" y1="575.80" x2="52.75" y2="575.80"/>
<line x1="48.75" y1="568.60" x2="56.35" y2="568.60"/>
<line x1="48.75" y1="561.40" x2="52.75" y2="561.40"/>
<line x1="48.75" y1="554.20" x2="52.75" y2="554.20"/>
<line x1="48.75" y1="546.99" x2="52.75" y2="546.99"/>
<line x1="48.75" y1="539.79" x2="52.75" y2="539.79"/>
<line x1="48.75" y1="532.59" x2="56.35" y2="532.59"/>
<line x1="48.75" y1="525.39" x2="52.75" y2="525.39"/>
<line x1="48.75" y1="518.19" x2="52.75" y2="518.19"/>
<line x1="48.75" y1="510.98" x2="52.75" y2="510.98"/>
<line x1="48.75" y1="503.78" x2="52.75" y2="503.78"/>
<line x1="48.75" y1="496.58" x2="56.35" y2="496.58"/>
<line x1="48.75" y1="489.38" x2="52.75" y2="489.38"/>
<line x1="48.75" y1="482.18" x2="52.75" y2="482.18"/>
<line x1="48.75" y1="474.97" x2="52.75" y2="474.97"/>
<line x1="48.75" y1="467.77" x2="52.75" y2="467.77"/>
<line x1="48.75" y1="460.57" x2="56.35" y2="460.57"/>
<line x1="48.75" y1="453.37" x2="52.75" y2="453.37"/>
<line x1="48.75" y1="446.17" x2="52.75" y2="446.17"/>
<line x1="48.75" y1="438.96" x2="52.75" y2="438.96"/>
<line x1="48.75" y1="431.76" x2="52.75" y2="431.76"/>
<line x1="48.75" y1="424.56" x2="56.35" y2="424.56"/>
<line x1="48.75" y1="417.36" x2="52.75" y2="417.36"/>
<line x1="48.75" y1="410.16" x2="52.75" y2="410.16"/>
<line x1="48.75" y1="402.95" x2="52.75" y2="402.95"/>
<line x1="48.75" y1="395.75" x2="52.75" y2="395.75"/>
<line x1="48.75" y1="388.55" x2="56.35" y2="388.55"/>
<line x1="48.75" y1="381.35" x2="52.75" y2="381.35"/>
<line x1="48.75" y1="374.15" x2="52.75" y2="374.15"/>
<line x1="48.75" y1="366.94" x2="52.75" y2="366.94"/>
<line x1="209.17" y1="478.4" x2="209.17" y2="474.80"/>
<line x1="219.64" y1="478.4" x2="219.64" y2="474.80"/>
<line x1="230.11" y1="478.4" x2="230.11" y2="474.80"/>
<line x1="240.58" y1="478.4" x2="240.58" y2="474.80"/>
<line x1="251.05" y1="478.4" x2="251.05" y2="474.80"/>
<line x1="261.52" y1="478.4" x2="261.52" y2="471.60"/>
<line x1="271.99" y1="478.4" x2="271.99" y2="474.80"/>
<line x1="282.46" y1="478.4" x2="282.46" y2="474.80"/>
<line x1="292.93" y1="478.4" x2="292.93" y2="474.80"/>
<line x1="303.40" y1="478.4" x2="303.40" y2="474.80"/>
<line x1="313.87" y1="478.4" x2="313.87" y2="474.80"/>
<line x1="324.34" y1="478.4" x2="324.34" y2="471.60"/>
<line x1="334.81" y1="478.4" x2="334.81" y2="474.80"/>
<line x1="345.28" y1="478.4" x2="345.28" y2="474.80"/>
<line x1="355.75" y1="478.4" x2="355.75" y2="474.80"/>
<line x1="366.22" y1="478.4" x2="366.22" y2="474.80"/>
<line x1="376.69" y1="478.4" x2="376.69" y2="474.80"/>
<line x1="198.7" y1="362.26" x2="202.30" y2="362.26"/>
<line x1="198.7" y1="368.52" x2="202.30" y2="368.52"/>
<line x1="198.7" y1="374.78" x2="202.30" y2="374.78"/>
<line x1="198.7" y1="381.04" x2="202.30" y2="381.04"/>
<line x1="198.7" y1="387.30" x2="205.50" y2="387.30"/>
<line x1="198.7" y1="393.56" x2="202.30" y2="393.56"/>
<line x1="198.7" y1="399.82" x2="202.30" y2="399.82"/>
<line x1="198.7" y1="406.08" x2="202.30" y2="406.08"/>
<line x1="198.7" y1="412.34" x2="202.30" y2="412.34"/>
<line x1="198.7" y1="418.60" x2="205.50" y2="418.60"/>
<line x1="198.7" y1="424.86" x2="202.30" y2="424.86"/>
<line x1="198.7" y1="431.12" x2="202.30" y2="431.12"/>
<line x1="198.7" y1="437.38" x2="202.30" y2="437.38"/>
<line x1="198.7" y1="443.64" x2="202.30" y2="443.64"/>
<line x1="198.7" y1="449.90" x2="205.50" y2="449.90"/>
<line x1="198.7" y1="456.16" x2="202.30" y2="456.16"/>
<line x1="198.7" y1="462.42" x2="202.30" y2="462.42"/>
<line x1="198.7" y1="468.68" x2="202.30" y2="468.68"/>
<line x1="198.7" y1="474.94" x2="202.30" y2="474.94"/>
</g>
<text transform="translate(40.60,572.70) scale(0.95,1)" font-size="14.1" text-anchor="end">0.0</text>
<text transform="translate(40.60,536.69) scale(0.95,1)" font-size="14.1" text-anchor="end">0.1</text>
<text transform="translate(40.60,500.68) scale(0.95,1)" font-size="14.1" text-anchor="end">0.2</text>
<text transform="translate(40.60,464.67) scale(0.95,1)" font-size="14.1" text-anchor="end">0.3</text>
<text transform="translate(40.60,428.66) scale(0.95,1)" font-size="14.1" text-anchor="end">0.4</text>
<text transform="translate(40.60,392.65) scale(0.95,1)" font-size="14.1" text-anchor="end">0.5</text>
<text transform="translate(77.70,597.90) scale(0.95,1)" font-size="14.1" text-anchor="middle">2</text>
<text transform="translate(116.40,597.90) scale(0.95,1)" font-size="14.1" text-anchor="middle">4</text>
<text transform="translate(155.10,597.90) scale(0.95,1)" font-size="14.1" text-anchor="middle">6</text>
<text transform="translate(193.80,597.90) scale(0.95,1)" font-size="14.1" text-anchor="middle">8</text>
<text transform="translate(232.50,597.90) scale(0.95,1)" font-size="14.1" text-anchor="middle">10</text>
<text transform="translate(271.20,597.90) scale(0.95,1)" font-size="14.1" text-anchor="middle">12</text>
<text transform="translate(309.90,597.90) scale(0.95,1)" font-size="14.1" text-anchor="middle">14</text>
<text transform="translate(348.60,597.90) scale(0.95,1)" font-size="14.1" text-anchor="middle">16</text>
<text transform="translate(387.30,597.90) scale(0.95,1)" font-size="14.1" text-anchor="middle">18</text>
<text transform="translate(191.00,392.00) scale(0.95,1)" font-size="14.1" text-anchor="end">-2</text>
<text transform="translate(191.00,423.30) scale(0.95,1)" font-size="14.1" text-anchor="end">-4</text>
<text transform="translate(191.00,454.60) scale(0.95,1)" font-size="14.1" text-anchor="end">-6</text>
<text transform="translate(198.20,494.70) scale(0.95,1)" font-size="14.1" text-anchor="middle">0</text>
<text transform="translate(261.02,494.70) scale(0.95,1)" font-size="14.1" text-anchor="middle">6</text>
<text transform="translate(323.84,494.70) scale(0.95,1)" font-size="14.1" text-anchor="middle">12</text>
<text x="211.7" y="608.9" font-size="14.1" text-anchor="middle">ln(t)</text>
<text x="289.9" y="491.6" font-size="13.6" text-anchor="middle">ln(t)</text>
<text transform="translate(15.0,469.6) rotate(-90)" font-size="12.2" text-anchor="middle">&#961;</text>
<text transform="translate(173.9,418.3) rotate(-90)" font-size="12.4" letter-spacing="0.5" text-anchor="middle">ln(<tspan font-size="11">&#961;</tspan>)</text>
</svg></body></html>
